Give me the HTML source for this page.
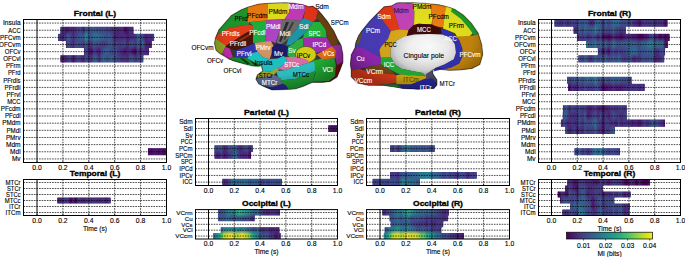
<!DOCTYPE html>
<html><head><meta charset="utf-8"><title>figure</title>
<style>html,body{margin:0;padding:0;background:#fff;}svg{display:block;}
.hg{stroke:#000;stroke-width:0.7;stroke-dasharray:1.6 1.0;}
.vg{stroke:#000;stroke-width:0.7;stroke-dasharray:1.6 1.0;}
.z0{stroke:#000;stroke-width:1;}
.fr{fill:none;stroke:#000;stroke-width:1;}
.tk{stroke:#000;stroke-width:0.6;}
</style></head>
<body><svg width="685" height="257" viewBox="0 0 685 257" font-family="'Liberation Sans', sans-serif">
<defs><filter id="vblur" x="-5%" y="-20%" width="110%" height="140%"><feGaussianBlur stdDeviation="0.3 1.6"/></filter>
<linearGradient id="g1" x1="0" x2="1" y1="0" y2="0"><stop offset="0.0000" stop-color="#472c7a"/><stop offset="0.0355" stop-color="#472f7d"/><stop offset="0.0708" stop-color="#481769"/><stop offset="0.1061" stop-color="#48186a"/><stop offset="0.1415" stop-color="#482878"/><stop offset="0.1768" stop-color="#482173"/><stop offset="0.2121" stop-color="#46337f"/><stop offset="0.2475" stop-color="#443a83"/><stop offset="0.2828" stop-color="#3e4989"/><stop offset="0.3181" stop-color="#482071"/><stop offset="0.3535" stop-color="#355e8d"/><stop offset="0.3888" stop-color="#423f85"/><stop offset="0.4241" stop-color="#3b518b"/><stop offset="0.4595" stop-color="#38588c"/><stop offset="0.4948" stop-color="#3f4889"/><stop offset="0.5302" stop-color="#3e4c8a"/><stop offset="0.5655" stop-color="#404588"/><stop offset="0.6008" stop-color="#3e4a89"/><stop offset="0.6362" stop-color="#443b84"/><stop offset="0.6715" stop-color="#423f85"/><stop offset="0.7068" stop-color="#472d7b"/><stop offset="0.7422" stop-color="#46327e"/><stop offset="0.7775" stop-color="#482374"/><stop offset="0.8128" stop-color="#482979"/><stop offset="0.8482" stop-color="#46307e"/><stop offset="0.8835" stop-color="#46085c"/><stop offset="0.9188" stop-color="#481467"/><stop offset="0.9542" stop-color="#46337f"/><stop offset="0.9895" stop-color="#482677"/><stop offset="1.0000" stop-color="#481c6e"/></linearGradient>
<linearGradient id="g2" x1="0" x2="1" y1="0" y2="0"><stop offset="0.0000" stop-color="#3a548c"/><stop offset="0.0250" stop-color="#482979"/><stop offset="0.0519" stop-color="#472e7c"/><stop offset="0.0787" stop-color="#46327e"/><stop offset="0.1056" stop-color="#34608d"/><stop offset="0.1325" stop-color="#3e4a89"/><stop offset="0.1593" stop-color="#472a7a"/><stop offset="0.1862" stop-color="#404588"/><stop offset="0.2131" stop-color="#3c508b"/><stop offset="0.2399" stop-color="#375a8c"/><stop offset="0.2668" stop-color="#39568c"/><stop offset="0.2937" stop-color="#218f8d"/><stop offset="0.3205" stop-color="#355f8d"/><stop offset="0.3474" stop-color="#3a548c"/><stop offset="0.3743" stop-color="#2d708e"/><stop offset="0.4011" stop-color="#2c738e"/><stop offset="0.4280" stop-color="#2f6b8e"/><stop offset="0.4549" stop-color="#365d8d"/><stop offset="0.4817" stop-color="#375b8d"/><stop offset="0.5086" stop-color="#3a548c"/><stop offset="0.5355" stop-color="#365c8d"/><stop offset="0.5623" stop-color="#3e4c8a"/><stop offset="0.5892" stop-color="#482979"/><stop offset="0.6161" stop-color="#482475"/><stop offset="0.6429" stop-color="#472e7c"/><stop offset="0.6698" stop-color="#482979"/><stop offset="0.6967" stop-color="#46337f"/><stop offset="0.7235" stop-color="#481a6c"/><stop offset="0.7504" stop-color="#472c7a"/><stop offset="0.7773" stop-color="#472e7c"/><stop offset="0.8041" stop-color="#453781"/><stop offset="0.8310" stop-color="#33638d"/><stop offset="0.8579" stop-color="#375a8c"/><stop offset="0.8848" stop-color="#433e85"/><stop offset="0.9116" stop-color="#481d6f"/><stop offset="0.9385" stop-color="#472e7c"/><stop offset="0.9654" stop-color="#482979"/><stop offset="0.9922" stop-color="#443983"/><stop offset="1.0000" stop-color="#433e85"/></linearGradient>
<linearGradient id="g3" x1="0" x2="1" y1="0" y2="0"><stop offset="0.0000" stop-color="#482677"/><stop offset="0.0265" stop-color="#3a548c"/><stop offset="0.0566" stop-color="#433d84"/><stop offset="0.0866" stop-color="#482979"/><stop offset="0.1167" stop-color="#3c508b"/><stop offset="0.1468" stop-color="#404588"/><stop offset="0.1769" stop-color="#3f4889"/><stop offset="0.2070" stop-color="#463480"/><stop offset="0.2370" stop-color="#39568c"/><stop offset="0.2671" stop-color="#472d7b"/><stop offset="0.2972" stop-color="#46337f"/><stop offset="0.3273" stop-color="#39568c"/><stop offset="0.3574" stop-color="#404588"/><stop offset="0.3875" stop-color="#3f4788"/><stop offset="0.4175" stop-color="#443b84"/><stop offset="0.4476" stop-color="#443a83"/><stop offset="0.4777" stop-color="#424186"/><stop offset="0.5078" stop-color="#38588c"/><stop offset="0.5379" stop-color="#3d4d8a"/><stop offset="0.5679" stop-color="#443b84"/><stop offset="0.5980" stop-color="#414487"/><stop offset="0.6281" stop-color="#453882"/><stop offset="0.6582" stop-color="#404588"/><stop offset="0.6883" stop-color="#414487"/><stop offset="0.7184" stop-color="#482475"/><stop offset="0.7484" stop-color="#3e4c8a"/><stop offset="0.7785" stop-color="#3d4e8a"/><stop offset="0.8086" stop-color="#443983"/><stop offset="0.8387" stop-color="#355f8d"/><stop offset="0.8688" stop-color="#414287"/><stop offset="0.8988" stop-color="#32648e"/><stop offset="0.9289" stop-color="#481f70"/><stop offset="0.9590" stop-color="#481d6f"/><stop offset="0.9891" stop-color="#481f70"/><stop offset="1.0000" stop-color="#423f85"/></linearGradient>
<linearGradient id="g4" x1="0" x2="1" y1="0" y2="0"><stop offset="0.0000" stop-color="#482979"/><stop offset="0.0355" stop-color="#404588"/><stop offset="0.0753" stop-color="#482475"/><stop offset="0.1151" stop-color="#46075a"/><stop offset="0.1548" stop-color="#423f85"/><stop offset="0.1946" stop-color="#482979"/><stop offset="0.2344" stop-color="#48186a"/><stop offset="0.2742" stop-color="#424186"/><stop offset="0.3140" stop-color="#3b528b"/><stop offset="0.3538" stop-color="#33638d"/><stop offset="0.3935" stop-color="#3b528b"/><stop offset="0.4333" stop-color="#424086"/><stop offset="0.4731" stop-color="#39558c"/><stop offset="0.5129" stop-color="#423f85"/><stop offset="0.5527" stop-color="#472e7c"/><stop offset="0.5925" stop-color="#482677"/><stop offset="0.6323" stop-color="#471164"/><stop offset="0.6720" stop-color="#482374"/><stop offset="0.7118" stop-color="#472a7a"/><stop offset="0.7516" stop-color="#460b5e"/><stop offset="0.7914" stop-color="#440256"/><stop offset="0.8312" stop-color="#424086"/><stop offset="0.8710" stop-color="#48186a"/><stop offset="0.9108" stop-color="#453882"/><stop offset="0.9505" stop-color="#482979"/><stop offset="0.9903" stop-color="#482576"/><stop offset="1.0000" stop-color="#481f70"/></linearGradient>
<linearGradient id="g5" x1="0" x2="1" y1="0" y2="0"><stop offset="0.0000" stop-color="#482374"/><stop offset="0.0313" stop-color="#481c6e"/><stop offset="0.0624" stop-color="#482374"/><stop offset="0.0935" stop-color="#453882"/><stop offset="0.1246" stop-color="#423f85"/><stop offset="0.1558" stop-color="#470e61"/><stop offset="0.1869" stop-color="#453581"/><stop offset="0.2180" stop-color="#3f4889"/><stop offset="0.2492" stop-color="#463480"/><stop offset="0.2803" stop-color="#482677"/><stop offset="0.3114" stop-color="#39568c"/><stop offset="0.3425" stop-color="#472d7b"/><stop offset="0.3737" stop-color="#46327e"/><stop offset="0.4048" stop-color="#365c8d"/><stop offset="0.4359" stop-color="#38598c"/><stop offset="0.4671" stop-color="#472d7b"/><stop offset="0.4982" stop-color="#38588c"/><stop offset="0.5293" stop-color="#32658e"/><stop offset="0.5605" stop-color="#3e4a89"/><stop offset="0.5916" stop-color="#365c8d"/><stop offset="0.6227" stop-color="#33628d"/><stop offset="0.6538" stop-color="#424186"/><stop offset="0.6850" stop-color="#3e4989"/><stop offset="0.7161" stop-color="#423f85"/><stop offset="0.7472" stop-color="#46307e"/><stop offset="0.7784" stop-color="#443983"/><stop offset="0.8095" stop-color="#482979"/><stop offset="0.8406" stop-color="#3a538b"/><stop offset="0.8718" stop-color="#3c4f8a"/><stop offset="0.9029" stop-color="#463480"/><stop offset="0.9340" stop-color="#404688"/><stop offset="0.9651" stop-color="#424186"/><stop offset="0.9963" stop-color="#3c4f8a"/><stop offset="1.0000" stop-color="#3a548c"/></linearGradient>
<linearGradient id="g6" x1="0" x2="1" y1="0" y2="0"><stop offset="0.0000" stop-color="#471365"/><stop offset="0.0253" stop-color="#471063"/><stop offset="0.1645" stop-color="#460b5e"/><stop offset="0.3038" stop-color="#481769"/><stop offset="0.4430" stop-color="#481b6d"/><stop offset="0.5823" stop-color="#471063"/><stop offset="0.7215" stop-color="#48186a"/><stop offset="0.8608" stop-color="#450457"/><stop offset="1.0000" stop-color="#481b6d"/></linearGradient>
<clipPath id="c7"><rect x="60.30" y="26.65" width="73.30" height="7.15"/><rect x="57.90" y="33.80" width="96.40" height="7.15"/><rect x="65.80" y="40.95" width="86.10" height="7.15"/><rect x="83.90" y="48.10" width="65.10" height="7.15"/><rect x="60.30" y="55.25" width="83.20" height="7.15"/><rect x="147.90" y="148.20" width="18.60" height="7.15"/></clipPath>
<linearGradient id="g8" x1="0" x2="1" y1="0" y2="0"><stop offset="0.0000" stop-color="#48186a"/><stop offset="0.0097" stop-color="#481f70"/><stop offset="0.0580" stop-color="#482071"/><stop offset="0.1063" stop-color="#453882"/><stop offset="0.1547" stop-color="#46307e"/><stop offset="0.2030" stop-color="#433d84"/><stop offset="0.2513" stop-color="#440154"/><stop offset="0.2996" stop-color="#482878"/><stop offset="0.3479" stop-color="#440154"/><stop offset="0.3963" stop-color="#463480"/><stop offset="0.4446" stop-color="#472a7a"/><stop offset="0.4929" stop-color="#482173"/><stop offset="0.5412" stop-color="#46307e"/><stop offset="0.5896" stop-color="#433d84"/><stop offset="0.6379" stop-color="#482878"/><stop offset="0.6862" stop-color="#463480"/><stop offset="0.7345" stop-color="#472f7d"/><stop offset="0.7828" stop-color="#482979"/><stop offset="0.8312" stop-color="#472e7c"/><stop offset="0.8795" stop-color="#472a7a"/><stop offset="0.9278" stop-color="#481a6c"/><stop offset="0.9761" stop-color="#443a83"/><stop offset="1.0000" stop-color="#453581"/></linearGradient>
<clipPath id="c9"><rect x="57.20" y="197.50" width="53.60" height="6.00"/></clipPath>
<linearGradient id="g10" x1="0" x2="1" y1="0" y2="0"><stop offset="0.0000" stop-color="#470d60"/><stop offset="0.2183" stop-color="#48186a"/><stop offset="0.4968" stop-color="#46085c"/><stop offset="0.7753" stop-color="#471063"/><stop offset="1.0000" stop-color="#481467"/></linearGradient>
<linearGradient id="g11" x1="0" x2="1" y1="0" y2="0"><stop offset="0.0000" stop-color="#433e85"/><stop offset="0.0508" stop-color="#404588"/><stop offset="0.1175" stop-color="#3d4d8a"/><stop offset="0.1843" stop-color="#3a538b"/><stop offset="0.2510" stop-color="#482374"/><stop offset="0.3178" stop-color="#472e7c"/><stop offset="0.3845" stop-color="#38598c"/><stop offset="0.4513" stop-color="#404688"/><stop offset="0.5180" stop-color="#31678e"/><stop offset="0.5848" stop-color="#404588"/><stop offset="0.6515" stop-color="#482979"/><stop offset="0.7183" stop-color="#472d7b"/><stop offset="0.7851" stop-color="#3f4889"/><stop offset="0.8518" stop-color="#3f4788"/><stop offset="0.9186" stop-color="#482071"/><stop offset="0.9853" stop-color="#3b518b"/><stop offset="1.0000" stop-color="#414287"/></linearGradient>
<linearGradient id="g12" x1="0" x2="1" y1="0" y2="0"><stop offset="0.0000" stop-color="#46337f"/><stop offset="0.0534" stop-color="#482878"/><stop offset="0.1236" stop-color="#481d6f"/><stop offset="0.1938" stop-color="#443b84"/><stop offset="0.2640" stop-color="#48186a"/><stop offset="0.3341" stop-color="#482475"/><stop offset="0.4043" stop-color="#453882"/><stop offset="0.4745" stop-color="#414287"/><stop offset="0.5447" stop-color="#2a788e"/><stop offset="0.6149" stop-color="#39558c"/><stop offset="0.6851" stop-color="#472f7d"/><stop offset="0.7553" stop-color="#472d7b"/><stop offset="0.8255" stop-color="#482475"/><stop offset="0.8957" stop-color="#46307e"/><stop offset="0.9659" stop-color="#460b5e"/><stop offset="1.0000" stop-color="#440256"/></linearGradient>
<linearGradient id="g13" x1="0" x2="1" y1="0" y2="0"><stop offset="0.0000" stop-color="#443983"/><stop offset="0.0308" stop-color="#482677"/><stop offset="0.0741" stop-color="#472d7b"/><stop offset="0.1174" stop-color="#414287"/><stop offset="0.1607" stop-color="#32658e"/><stop offset="0.2040" stop-color="#2c718e"/><stop offset="0.2473" stop-color="#375b8d"/><stop offset="0.2906" stop-color="#2f6c8e"/><stop offset="0.3339" stop-color="#31688e"/><stop offset="0.3773" stop-color="#2e6f8e"/><stop offset="0.4206" stop-color="#31678e"/><stop offset="0.4639" stop-color="#3c508b"/><stop offset="0.5072" stop-color="#355f8d"/><stop offset="0.5505" stop-color="#365d8d"/><stop offset="0.5938" stop-color="#375b8d"/><stop offset="0.6371" stop-color="#3d4d8a"/><stop offset="0.6804" stop-color="#433d84"/><stop offset="0.7237" stop-color="#38598c"/><stop offset="0.7671" stop-color="#424086"/><stop offset="0.8104" stop-color="#3c4f8a"/><stop offset="0.8537" stop-color="#3a548c"/><stop offset="0.8970" stop-color="#3f4788"/><stop offset="0.9403" stop-color="#3e4989"/><stop offset="0.9836" stop-color="#3e4c8a"/><stop offset="1.0000" stop-color="#3e4a89"/></linearGradient>
<clipPath id="c14"><rect x="328.20" y="125.20" width="9.30" height="6.70"/><rect x="214.30" y="145.30" width="38.80" height="6.70"/><rect x="214.30" y="152.00" width="36.90" height="6.70"/><rect x="222.20" y="178.80" width="59.80" height="6.70"/></clipPath>
<linearGradient id="g15" x1="0" x2="1" y1="0" y2="0"><stop offset="0.0000" stop-color="#3d4d8a"/><stop offset="0.0080" stop-color="#3e4a89"/><stop offset="0.0657" stop-color="#472e7c"/><stop offset="0.1234" stop-color="#355f8d"/><stop offset="0.1811" stop-color="#482878"/><stop offset="0.2388" stop-color="#3d4d8a"/><stop offset="0.2964" stop-color="#31668e"/><stop offset="0.3541" stop-color="#306a8e"/><stop offset="0.4118" stop-color="#297a8e"/><stop offset="0.4695" stop-color="#3a548c"/><stop offset="0.5272" stop-color="#34608d"/><stop offset="0.5849" stop-color="#3b518b"/><stop offset="0.6425" stop-color="#34618d"/><stop offset="0.7002" stop-color="#3b528b"/><stop offset="0.7579" stop-color="#3d4d8a"/><stop offset="0.8156" stop-color="#375b8d"/><stop offset="0.8733" stop-color="#3f4889"/><stop offset="0.9310" stop-color="#433d84"/><stop offset="0.9886" stop-color="#3b528b"/><stop offset="1.0000" stop-color="#3c508b"/></linearGradient>
<linearGradient id="g16" x1="0" x2="1" y1="0" y2="0"><stop offset="0.0000" stop-color="#3d4d8a"/><stop offset="0.0041" stop-color="#453781"/><stop offset="0.0339" stop-color="#443983"/><stop offset="0.0638" stop-color="#443b84"/><stop offset="0.0936" stop-color="#472a7a"/><stop offset="0.1234" stop-color="#3d4d8a"/><stop offset="0.1532" stop-color="#38598c"/><stop offset="0.1830" stop-color="#3b528b"/><stop offset="0.2128" stop-color="#34608d"/><stop offset="0.2426" stop-color="#39568c"/><stop offset="0.2724" stop-color="#32648e"/><stop offset="0.3022" stop-color="#34608d"/><stop offset="0.3320" stop-color="#2e6f8e"/><stop offset="0.3618" stop-color="#2a788e"/><stop offset="0.3916" stop-color="#2c728e"/><stop offset="0.4214" stop-color="#27808e"/><stop offset="0.4512" stop-color="#2a778e"/><stop offset="0.4810" stop-color="#32658e"/><stop offset="0.5108" stop-color="#33638d"/><stop offset="0.5406" stop-color="#31668e"/><stop offset="0.5704" stop-color="#375b8d"/><stop offset="0.6002" stop-color="#3e4a89"/><stop offset="0.6300" stop-color="#423f85"/><stop offset="0.6598" stop-color="#3a538b"/><stop offset="0.6896" stop-color="#453781"/><stop offset="0.7194" stop-color="#3e4989"/><stop offset="0.7493" stop-color="#453581"/><stop offset="0.7791" stop-color="#453581"/><stop offset="0.8089" stop-color="#3f4889"/><stop offset="0.8387" stop-color="#3e4a89"/><stop offset="0.8685" stop-color="#433e85"/><stop offset="0.8983" stop-color="#482071"/><stop offset="0.9281" stop-color="#404588"/><stop offset="0.9579" stop-color="#453882"/><stop offset="0.9877" stop-color="#3d4e8a"/><stop offset="1.0000" stop-color="#443a83"/></linearGradient>
<linearGradient id="g17" x1="0" x2="1" y1="0" y2="0"><stop offset="0.0000" stop-color="#433d84"/><stop offset="0.0509" stop-color="#414287"/><stop offset="0.1055" stop-color="#423f85"/><stop offset="0.1600" stop-color="#3a538b"/><stop offset="0.2145" stop-color="#3e4a89"/><stop offset="0.2691" stop-color="#3d4d8a"/><stop offset="0.3236" stop-color="#433e85"/><stop offset="0.3781" stop-color="#3a548c"/><stop offset="0.4326" stop-color="#3e4a89"/><stop offset="0.4872" stop-color="#3a538b"/><stop offset="0.5417" stop-color="#443b84"/><stop offset="0.5962" stop-color="#31678e"/><stop offset="0.6507" stop-color="#23888e"/><stop offset="0.7053" stop-color="#2d718e"/><stop offset="0.7598" stop-color="#2c728e"/><stop offset="0.8143" stop-color="#2f6b8e"/><stop offset="0.8688" stop-color="#2f6c8e"/><stop offset="0.9234" stop-color="#365d8d"/><stop offset="0.9779" stop-color="#39568c"/><stop offset="1.0000" stop-color="#3e4c8a"/></linearGradient>
<clipPath id="c18"><rect x="390.00" y="145.30" width="44.90" height="6.70"/><rect x="390.00" y="172.10" width="86.90" height="6.70"/><rect x="372.40" y="178.80" width="47.50" height="6.70"/></clipPath>
<linearGradient id="g19" x1="0" x2="1" y1="0" y2="0"><stop offset="0.0000" stop-color="#404688"/><stop offset="0.0123" stop-color="#3e4989"/><stop offset="0.0541" stop-color="#3c508b"/><stop offset="0.0960" stop-color="#375a8c"/><stop offset="0.1378" stop-color="#2c728e"/><stop offset="0.1796" stop-color="#24878e"/><stop offset="0.2215" stop-color="#287c8e"/><stop offset="0.2633" stop-color="#21908d"/><stop offset="0.3052" stop-color="#1fa188"/><stop offset="0.3470" stop-color="#34b679"/><stop offset="0.3889" stop-color="#22a785"/><stop offset="0.4307" stop-color="#1fa088"/><stop offset="0.4725" stop-color="#20928c"/><stop offset="0.5144" stop-color="#277f8e"/><stop offset="0.5562" stop-color="#2d708e"/><stop offset="0.5981" stop-color="#365d8d"/><stop offset="0.6399" stop-color="#306a8e"/><stop offset="0.6817" stop-color="#355e8d"/><stop offset="0.7236" stop-color="#46337f"/><stop offset="0.7654" stop-color="#472f7d"/><stop offset="0.8073" stop-color="#482677"/><stop offset="0.8491" stop-color="#463480"/><stop offset="0.8910" stop-color="#46337f"/><stop offset="0.9328" stop-color="#472e7c"/><stop offset="0.9746" stop-color="#482374"/><stop offset="1.0000" stop-color="#482173"/></linearGradient>
<linearGradient id="g20" x1="0" x2="1" y1="0" y2="0"><stop offset="0.0000" stop-color="#423f85"/><stop offset="0.0207" stop-color="#3e4989"/><stop offset="0.0913" stop-color="#3a538b"/><stop offset="0.1619" stop-color="#3b528b"/><stop offset="0.2324" stop-color="#31678e"/><stop offset="0.3030" stop-color="#34618d"/><stop offset="0.3736" stop-color="#3a538b"/><stop offset="0.4441" stop-color="#3b528b"/><stop offset="0.5147" stop-color="#3a538b"/><stop offset="0.5853" stop-color="#38598c"/><stop offset="0.6559" stop-color="#3b518b"/><stop offset="0.7264" stop-color="#424186"/><stop offset="0.7970" stop-color="#3e4c8a"/><stop offset="0.8676" stop-color="#433d84"/><stop offset="0.9381" stop-color="#482374"/><stop offset="1.0000" stop-color="#463480"/></linearGradient>
<linearGradient id="g21" x1="0" x2="1" y1="0" y2="0"><stop offset="0.0000" stop-color="#39558c"/><stop offset="0.0144" stop-color="#375a8c"/><stop offset="0.0583" stop-color="#26828e"/><stop offset="0.1022" stop-color="#25838e"/><stop offset="0.1461" stop-color="#228b8d"/><stop offset="0.1900" stop-color="#25838e"/><stop offset="0.2339" stop-color="#287c8e"/><stop offset="0.2778" stop-color="#21908d"/><stop offset="0.3217" stop-color="#2a768e"/><stop offset="0.3656" stop-color="#277e8e"/><stop offset="0.4095" stop-color="#277f8e"/><stop offset="0.4534" stop-color="#355f8d"/><stop offset="0.4973" stop-color="#34618d"/><stop offset="0.5412" stop-color="#3b518b"/><stop offset="0.5851" stop-color="#414487"/><stop offset="0.6290" stop-color="#33638d"/><stop offset="0.6729" stop-color="#414487"/><stop offset="0.7168" stop-color="#482173"/><stop offset="0.7607" stop-color="#46337f"/><stop offset="0.8046" stop-color="#46307e"/><stop offset="0.8485" stop-color="#482071"/><stop offset="0.8924" stop-color="#482677"/><stop offset="0.9363" stop-color="#482979"/><stop offset="0.9802" stop-color="#482173"/><stop offset="1.0000" stop-color="#482878"/></linearGradient>
<linearGradient id="g22" x1="0" x2="1" y1="0" y2="0"><stop offset="0.0000" stop-color="#38588c"/><stop offset="0.0071" stop-color="#34618d"/><stop offset="0.0454" stop-color="#228d8d"/><stop offset="0.0837" stop-color="#1fa287"/><stop offset="0.1220" stop-color="#40bd72"/><stop offset="0.1604" stop-color="#c2df23"/><stop offset="0.1987" stop-color="#cae11f"/><stop offset="0.2370" stop-color="#fde725"/><stop offset="0.2753" stop-color="#f4e61e"/><stop offset="0.3136" stop-color="#dae319"/><stop offset="0.3519" stop-color="#b0dd2f"/><stop offset="0.3902" stop-color="#dae319"/><stop offset="0.4286" stop-color="#fbe723"/><stop offset="0.4669" stop-color="#c8e020"/><stop offset="0.5052" stop-color="#b5de2b"/><stop offset="0.5435" stop-color="#6ccd5a"/><stop offset="0.5818" stop-color="#26ad81"/><stop offset="0.6201" stop-color="#1f948c"/><stop offset="0.6584" stop-color="#287d8e"/><stop offset="0.6967" stop-color="#2e6d8e"/><stop offset="0.7351" stop-color="#3c508b"/><stop offset="0.7734" stop-color="#375a8c"/><stop offset="0.8117" stop-color="#3b528b"/><stop offset="0.8500" stop-color="#463480"/><stop offset="0.8883" stop-color="#453882"/><stop offset="0.9266" stop-color="#481467"/><stop offset="0.9649" stop-color="#472a7a"/><stop offset="1.0000" stop-color="#482677"/></linearGradient>
<clipPath id="c23"><rect x="218.10" y="209.60" width="61.90" height="5.88"/><rect x="218.10" y="215.48" width="36.70" height="5.88"/><rect x="220.60" y="227.24" width="59.00" height="5.88"/><rect x="213.20" y="233.12" width="67.60" height="5.88"/></clipPath>
<linearGradient id="g24" x1="0" x2="1" y1="0" y2="0"><stop offset="0.0000" stop-color="#481668"/><stop offset="0.0058" stop-color="#482878"/><stop offset="0.0447" stop-color="#482979"/><stop offset="0.0835" stop-color="#3d4e8a"/><stop offset="0.1223" stop-color="#3e4989"/><stop offset="0.1612" stop-color="#375b8d"/><stop offset="0.2000" stop-color="#30698e"/><stop offset="0.2388" stop-color="#277e8e"/><stop offset="0.2777" stop-color="#30698e"/><stop offset="0.3165" stop-color="#228b8d"/><stop offset="0.3553" stop-color="#1f968b"/><stop offset="0.3942" stop-color="#22a884"/><stop offset="0.4330" stop-color="#1f988b"/><stop offset="0.4718" stop-color="#26828e"/><stop offset="0.5106" stop-color="#2b758e"/><stop offset="0.5495" stop-color="#2e6e8e"/><stop offset="0.5883" stop-color="#31678e"/><stop offset="0.6271" stop-color="#2c728e"/><stop offset="0.6660" stop-color="#375b8d"/><stop offset="0.7048" stop-color="#31668e"/><stop offset="0.7436" stop-color="#31668e"/><stop offset="0.7825" stop-color="#38598c"/><stop offset="0.8213" stop-color="#3c4f8a"/><stop offset="0.8601" stop-color="#424186"/><stop offset="0.8990" stop-color="#472f7d"/><stop offset="0.9378" stop-color="#482677"/><stop offset="0.9766" stop-color="#453882"/><stop offset="1.0000" stop-color="#482374"/></linearGradient>
<linearGradient id="g25" x1="0" x2="1" y1="0" y2="0"><stop offset="0.0000" stop-color="#453581"/><stop offset="0.0163" stop-color="#3e4989"/><stop offset="0.0603" stop-color="#3b528b"/><stop offset="0.1042" stop-color="#34608d"/><stop offset="0.1482" stop-color="#2f6c8e"/><stop offset="0.1922" stop-color="#3d4e8a"/><stop offset="0.2362" stop-color="#33628d"/><stop offset="0.2801" stop-color="#306a8e"/><stop offset="0.3241" stop-color="#2e6f8e"/><stop offset="0.3681" stop-color="#3d4e8a"/><stop offset="0.4121" stop-color="#3d4e8a"/><stop offset="0.4560" stop-color="#3a538b"/><stop offset="0.5000" stop-color="#3a538b"/><stop offset="0.5440" stop-color="#414287"/><stop offset="0.5879" stop-color="#3b518b"/><stop offset="0.6319" stop-color="#46307e"/><stop offset="0.6759" stop-color="#424086"/><stop offset="0.7199" stop-color="#414287"/><stop offset="0.7638" stop-color="#453882"/><stop offset="0.8078" stop-color="#443a83"/><stop offset="0.8518" stop-color="#46337f"/><stop offset="0.8958" stop-color="#46307e"/><stop offset="0.9397" stop-color="#472a7a"/><stop offset="0.9837" stop-color="#443b84"/><stop offset="1.0000" stop-color="#443b84"/></linearGradient>
<linearGradient id="g26" x1="0" x2="1" y1="0" y2="0"><stop offset="0.0000" stop-color="#39568c"/><stop offset="0.0463" stop-color="#3c508b"/><stop offset="0.0953" stop-color="#375a8c"/><stop offset="0.1442" stop-color="#32648e"/><stop offset="0.1932" stop-color="#365c8d"/><stop offset="0.2422" stop-color="#39568c"/><stop offset="0.2911" stop-color="#34608d"/><stop offset="0.3401" stop-color="#355e8d"/><stop offset="0.3890" stop-color="#3d4d8a"/><stop offset="0.4380" stop-color="#433e85"/><stop offset="0.4870" stop-color="#443b84"/><stop offset="0.5359" stop-color="#463480"/><stop offset="0.5849" stop-color="#46337f"/><stop offset="0.6338" stop-color="#453581"/><stop offset="0.6828" stop-color="#482071"/><stop offset="0.7318" stop-color="#443b84"/><stop offset="0.7807" stop-color="#46327e"/><stop offset="0.8297" stop-color="#482071"/><stop offset="0.8786" stop-color="#46337f"/><stop offset="0.9276" stop-color="#453781"/><stop offset="0.9766" stop-color="#453581"/><stop offset="1.0000" stop-color="#46337f"/></linearGradient>
<linearGradient id="g27" x1="0" x2="1" y1="0" y2="0"><stop offset="0.0000" stop-color="#3b518b"/><stop offset="0.0119" stop-color="#443a83"/><stop offset="0.0574" stop-color="#33638d"/><stop offset="0.1028" stop-color="#2b748e"/><stop offset="0.1482" stop-color="#287c8e"/><stop offset="0.1937" stop-color="#218e8d"/><stop offset="0.2391" stop-color="#1e9c89"/><stop offset="0.2846" stop-color="#297b8e"/><stop offset="0.3300" stop-color="#287c8e"/><stop offset="0.3754" stop-color="#287c8e"/><stop offset="0.4209" stop-color="#26828e"/><stop offset="0.4663" stop-color="#297a8e"/><stop offset="0.5118" stop-color="#2c728e"/><stop offset="0.5572" stop-color="#375a8c"/><stop offset="0.6026" stop-color="#3a548c"/><stop offset="0.6481" stop-color="#38588c"/><stop offset="0.6935" stop-color="#33638d"/><stop offset="0.7389" stop-color="#404588"/><stop offset="0.7844" stop-color="#3a548c"/><stop offset="0.8298" stop-color="#404688"/><stop offset="0.8753" stop-color="#443a83"/><stop offset="0.9207" stop-color="#3f4889"/><stop offset="0.9661" stop-color="#453581"/><stop offset="1.0000" stop-color="#482979"/></linearGradient>
<linearGradient id="g28" x1="0" x2="1" y1="0" y2="0"><stop offset="0.0000" stop-color="#26828e"/><stop offset="0.0197" stop-color="#25848e"/><stop offset="0.0519" stop-color="#20a486"/><stop offset="0.0841" stop-color="#54c568"/><stop offset="0.1163" stop-color="#bddf26"/><stop offset="0.1485" stop-color="#d0e11c"/><stop offset="0.1807" stop-color="#eae51a"/><stop offset="0.2129" stop-color="#b2dd2d"/><stop offset="0.2451" stop-color="#c0df25"/><stop offset="0.2774" stop-color="#f8e621"/><stop offset="0.3096" stop-color="#f8e621"/><stop offset="0.3418" stop-color="#d2e21b"/><stop offset="0.3740" stop-color="#e5e419"/><stop offset="0.4062" stop-color="#dae319"/><stop offset="0.4384" stop-color="#addc30"/><stop offset="0.4706" stop-color="#65cb5e"/><stop offset="0.5029" stop-color="#69cd5b"/><stop offset="0.5351" stop-color="#25ac82"/><stop offset="0.5673" stop-color="#1fa287"/><stop offset="0.5995" stop-color="#21908d"/><stop offset="0.6317" stop-color="#23898e"/><stop offset="0.6639" stop-color="#31688e"/><stop offset="0.6961" stop-color="#2d718e"/><stop offset="0.7284" stop-color="#3b518b"/><stop offset="0.7606" stop-color="#3e4a89"/><stop offset="0.7928" stop-color="#3a538b"/><stop offset="0.8250" stop-color="#453882"/><stop offset="0.8572" stop-color="#453581"/><stop offset="0.8894" stop-color="#472f7d"/><stop offset="0.9216" stop-color="#481f70"/><stop offset="0.9539" stop-color="#472c7a"/><stop offset="0.9861" stop-color="#481467"/><stop offset="1.0000" stop-color="#472c7a"/></linearGradient>
<clipPath id="c29"><rect x="382.20" y="209.60" width="66.70" height="5.88"/><rect x="389.40" y="215.48" width="58.90" height="5.88"/><rect x="390.50" y="221.36" width="52.90" height="5.88"/><rect x="384.50" y="227.24" width="57.00" height="5.88"/><rect x="383.60" y="233.12" width="80.40" height="5.88"/></clipPath>
<linearGradient id="g30" x1="0" x2="1" y1="0" y2="0"><stop offset="0.0000" stop-color="#414287"/><stop offset="0.0210" stop-color="#423f85"/><stop offset="0.0438" stop-color="#453581"/><stop offset="0.0667" stop-color="#472d7b"/><stop offset="0.0895" stop-color="#3f4788"/><stop offset="0.1123" stop-color="#472e7c"/><stop offset="0.1352" stop-color="#46337f"/><stop offset="0.1580" stop-color="#414487"/><stop offset="0.1809" stop-color="#423f85"/><stop offset="0.2037" stop-color="#404688"/><stop offset="0.2265" stop-color="#38588c"/><stop offset="0.2494" stop-color="#3e4c8a"/><stop offset="0.2722" stop-color="#34608d"/><stop offset="0.2951" stop-color="#3c508b"/><stop offset="0.3179" stop-color="#482878"/><stop offset="0.3407" stop-color="#482173"/><stop offset="0.3636" stop-color="#38598c"/><stop offset="0.3864" stop-color="#31678e"/><stop offset="0.4093" stop-color="#3a548c"/><stop offset="0.4321" stop-color="#463480"/><stop offset="0.4549" stop-color="#33638d"/><stop offset="0.4778" stop-color="#404588"/><stop offset="0.5006" stop-color="#365c8d"/><stop offset="0.5235" stop-color="#2f6b8e"/><stop offset="0.5463" stop-color="#30698e"/><stop offset="0.5691" stop-color="#31678e"/><stop offset="0.5920" stop-color="#3d4d8a"/><stop offset="0.6148" stop-color="#3d4d8a"/><stop offset="0.6377" stop-color="#3d4e8a"/><stop offset="0.6605" stop-color="#424186"/><stop offset="0.6833" stop-color="#3f4788"/><stop offset="0.7062" stop-color="#472c7a"/><stop offset="0.7290" stop-color="#482878"/><stop offset="0.7519" stop-color="#471063"/><stop offset="0.7747" stop-color="#453581"/><stop offset="0.7975" stop-color="#443b84"/><stop offset="0.8204" stop-color="#453882"/><stop offset="0.8432" stop-color="#453882"/><stop offset="0.8660" stop-color="#443983"/><stop offset="0.8889" stop-color="#472d7b"/><stop offset="0.9117" stop-color="#46307e"/><stop offset="0.9346" stop-color="#46307e"/><stop offset="0.9574" stop-color="#472d7b"/><stop offset="0.9802" stop-color="#460b5e"/><stop offset="1.0000" stop-color="#472f7d"/></linearGradient>
<linearGradient id="g31" x1="0" x2="1" y1="0" y2="0"><stop offset="0.0000" stop-color="#482878"/><stop offset="0.0269" stop-color="#482677"/><stop offset="0.0762" stop-color="#443a83"/><stop offset="0.1255" stop-color="#32658e"/><stop offset="0.1749" stop-color="#423f85"/><stop offset="0.2242" stop-color="#2b748e"/><stop offset="0.2735" stop-color="#39568c"/><stop offset="0.3229" stop-color="#365c8d"/><stop offset="0.3722" stop-color="#38598c"/><stop offset="0.4215" stop-color="#23888e"/><stop offset="0.4709" stop-color="#365c8d"/><stop offset="0.5202" stop-color="#365c8d"/><stop offset="0.5695" stop-color="#443a83"/><stop offset="0.6189" stop-color="#3b518b"/><stop offset="0.6682" stop-color="#404588"/><stop offset="0.7175" stop-color="#3c4f8a"/><stop offset="0.7669" stop-color="#33638d"/><stop offset="0.8162" stop-color="#404688"/><stop offset="0.8655" stop-color="#433e85"/><stop offset="0.9149" stop-color="#46307e"/><stop offset="0.9642" stop-color="#423f85"/><stop offset="1.0000" stop-color="#404588"/></linearGradient>
<linearGradient id="g32" x1="0" x2="1" y1="0" y2="0"><stop offset="0.0000" stop-color="#440154"/><stop offset="0.0302" stop-color="#404688"/><stop offset="0.0582" stop-color="#463480"/><stop offset="0.0862" stop-color="#414487"/><stop offset="0.1142" stop-color="#482576"/><stop offset="0.1422" stop-color="#463480"/><stop offset="0.1702" stop-color="#404688"/><stop offset="0.1982" stop-color="#433d84"/><stop offset="0.2262" stop-color="#481c6e"/><stop offset="0.2542" stop-color="#433d84"/><stop offset="0.2822" stop-color="#440154"/><stop offset="0.3102" stop-color="#471164"/><stop offset="0.3382" stop-color="#440154"/><stop offset="0.3662" stop-color="#470d60"/><stop offset="0.3942" stop-color="#472c7a"/><stop offset="0.4222" stop-color="#471164"/><stop offset="0.4502" stop-color="#481668"/><stop offset="0.4782" stop-color="#440154"/><stop offset="0.5062" stop-color="#48186a"/><stop offset="0.5342" stop-color="#482979"/><stop offset="0.5622" stop-color="#46337f"/><stop offset="0.5902" stop-color="#481b6d"/><stop offset="0.6182" stop-color="#48186a"/><stop offset="0.6462" stop-color="#471164"/><stop offset="0.6742" stop-color="#440154"/><stop offset="0.7022" stop-color="#440154"/><stop offset="0.7302" stop-color="#481668"/><stop offset="0.7582" stop-color="#481a6c"/><stop offset="0.7862" stop-color="#453581"/><stop offset="0.8142" stop-color="#3f4788"/><stop offset="0.8422" stop-color="#481c6e"/><stop offset="0.8702" stop-color="#482475"/><stop offset="0.8982" stop-color="#440154"/><stop offset="0.9262" stop-color="#481c6e"/><stop offset="0.9542" stop-color="#440154"/><stop offset="0.9822" stop-color="#471063"/><stop offset="1.0000" stop-color="#440154"/></linearGradient>
<linearGradient id="g33" x1="0" x2="1" y1="0" y2="0"><stop offset="0.0000" stop-color="#27808e"/><stop offset="0.0214" stop-color="#33628d"/><stop offset="0.0530" stop-color="#365d8d"/><stop offset="0.0845" stop-color="#34608d"/><stop offset="0.1161" stop-color="#2a778e"/><stop offset="0.1476" stop-color="#3c508b"/><stop offset="0.1792" stop-color="#306a8e"/><stop offset="0.2107" stop-color="#424186"/><stop offset="0.2423" stop-color="#306a8e"/><stop offset="0.2738" stop-color="#423f85"/><stop offset="0.3054" stop-color="#3b518b"/><stop offset="0.3369" stop-color="#297b8e"/><stop offset="0.3685" stop-color="#375b8d"/><stop offset="0.4000" stop-color="#3d4e8a"/><stop offset="0.4315" stop-color="#375b8d"/><stop offset="0.4631" stop-color="#365d8d"/><stop offset="0.4946" stop-color="#365c8d"/><stop offset="0.5262" stop-color="#2f6b8e"/><stop offset="0.5577" stop-color="#375a8c"/><stop offset="0.5893" stop-color="#34608d"/><stop offset="0.6208" stop-color="#3a548c"/><stop offset="0.6524" stop-color="#404688"/><stop offset="0.6839" stop-color="#32658e"/><stop offset="0.7155" stop-color="#355e8d"/><stop offset="0.7470" stop-color="#2b748e"/><stop offset="0.7786" stop-color="#26828e"/><stop offset="0.8101" stop-color="#2b748e"/><stop offset="0.8417" stop-color="#365c8d"/><stop offset="0.8732" stop-color="#2f6c8e"/><stop offset="0.9048" stop-color="#33628d"/><stop offset="0.9363" stop-color="#30698e"/><stop offset="0.9678" stop-color="#471164"/><stop offset="1.0000" stop-color="#482576"/></linearGradient>
<linearGradient id="g34" x1="0" x2="1" y1="0" y2="0"><stop offset="0.0000" stop-color="#404588"/><stop offset="0.0062" stop-color="#453882"/><stop offset="0.0446" stop-color="#414287"/><stop offset="0.0830" stop-color="#440154"/><stop offset="0.1213" stop-color="#453882"/><stop offset="0.1597" stop-color="#460a5d"/><stop offset="0.1981" stop-color="#443a83"/><stop offset="0.2364" stop-color="#414287"/><stop offset="0.2748" stop-color="#472f7d"/><stop offset="0.3132" stop-color="#404588"/><stop offset="0.3516" stop-color="#463480"/><stop offset="0.3899" stop-color="#414287"/><stop offset="0.4283" stop-color="#3f4788"/><stop offset="0.4667" stop-color="#34618d"/><stop offset="0.5050" stop-color="#32648e"/><stop offset="0.5434" stop-color="#30698e"/><stop offset="0.5818" stop-color="#33628d"/><stop offset="0.6201" stop-color="#414487"/><stop offset="0.6585" stop-color="#3a538b"/><stop offset="0.6969" stop-color="#3b518b"/><stop offset="0.7353" stop-color="#365d8d"/><stop offset="0.7736" stop-color="#3b528b"/><stop offset="0.8120" stop-color="#355e8d"/><stop offset="0.8504" stop-color="#453581"/><stop offset="0.8887" stop-color="#472a7a"/><stop offset="0.9271" stop-color="#404588"/><stop offset="0.9655" stop-color="#3d4d8a"/><stop offset="1.0000" stop-color="#482173"/></linearGradient>
<linearGradient id="g35" x1="0" x2="1" y1="0" y2="0"><stop offset="0.0000" stop-color="#453882"/><stop offset="0.0208" stop-color="#39558c"/><stop offset="0.0508" stop-color="#433d84"/><stop offset="0.0809" stop-color="#34618d"/><stop offset="0.1109" stop-color="#3e4989"/><stop offset="0.1410" stop-color="#472d7b"/><stop offset="0.1710" stop-color="#433e85"/><stop offset="0.2010" stop-color="#32658e"/><stop offset="0.2311" stop-color="#404588"/><stop offset="0.2611" stop-color="#375a8c"/><stop offset="0.2912" stop-color="#443a83"/><stop offset="0.3212" stop-color="#31678e"/><stop offset="0.3513" stop-color="#3e4a89"/><stop offset="0.3813" stop-color="#3d4d8a"/><stop offset="0.4114" stop-color="#355f8d"/><stop offset="0.4414" stop-color="#3e4c8a"/><stop offset="0.4715" stop-color="#32658e"/><stop offset="0.5015" stop-color="#3f4889"/><stop offset="0.5316" stop-color="#443983"/><stop offset="0.5616" stop-color="#433e85"/><stop offset="0.5916" stop-color="#365c8d"/><stop offset="0.6217" stop-color="#433d84"/><stop offset="0.6517" stop-color="#482173"/><stop offset="0.6818" stop-color="#443b84"/><stop offset="0.7118" stop-color="#472e7c"/><stop offset="0.7419" stop-color="#3d4d8a"/><stop offset="0.7719" stop-color="#3e4989"/><stop offset="0.8020" stop-color="#3e4989"/><stop offset="0.8320" stop-color="#3b518b"/><stop offset="0.8621" stop-color="#3e4989"/><stop offset="0.8921" stop-color="#482475"/><stop offset="0.9222" stop-color="#482576"/><stop offset="0.9522" stop-color="#472c7a"/><stop offset="0.9823" stop-color="#404588"/><stop offset="1.0000" stop-color="#46337f"/></linearGradient>
<linearGradient id="g36" x1="0" x2="1" y1="0" y2="0"><stop offset="0.0000" stop-color="#355f8d"/><stop offset="0.0421" stop-color="#433e85"/><stop offset="0.0821" stop-color="#3e4c8a"/><stop offset="0.1221" stop-color="#39568c"/><stop offset="0.1620" stop-color="#3f4788"/><stop offset="0.2020" stop-color="#31668e"/><stop offset="0.2420" stop-color="#3d4e8a"/><stop offset="0.2819" stop-color="#355f8d"/><stop offset="0.3219" stop-color="#2e6e8e"/><stop offset="0.3619" stop-color="#375b8d"/><stop offset="0.4019" stop-color="#365d8d"/><stop offset="0.4418" stop-color="#25858e"/><stop offset="0.4818" stop-color="#3c508b"/><stop offset="0.5218" stop-color="#38588c"/><stop offset="0.5617" stop-color="#472f7d"/><stop offset="0.6017" stop-color="#34618d"/><stop offset="0.6417" stop-color="#414487"/><stop offset="0.6816" stop-color="#365c8d"/><stop offset="0.7216" stop-color="#34608d"/><stop offset="0.7616" stop-color="#3a548c"/><stop offset="0.8015" stop-color="#355f8d"/><stop offset="0.8415" stop-color="#3d4d8a"/><stop offset="0.8815" stop-color="#3e4c8a"/><stop offset="0.9215" stop-color="#3d4d8a"/><stop offset="0.9614" stop-color="#404588"/><stop offset="1.0000" stop-color="#482576"/></linearGradient>
<linearGradient id="g37" x1="0" x2="1" y1="0" y2="0"><stop offset="0.0000" stop-color="#482173"/><stop offset="0.0225" stop-color="#46085c"/><stop offset="0.0562" stop-color="#46337f"/><stop offset="0.0899" stop-color="#481c6e"/><stop offset="0.1235" stop-color="#482878"/><stop offset="0.1572" stop-color="#443a83"/><stop offset="0.1909" stop-color="#482979"/><stop offset="0.2246" stop-color="#3c4f8a"/><stop offset="0.2583" stop-color="#472d7b"/><stop offset="0.2919" stop-color="#443983"/><stop offset="0.3256" stop-color="#463480"/><stop offset="0.3593" stop-color="#3e4989"/><stop offset="0.3930" stop-color="#404688"/><stop offset="0.4267" stop-color="#482878"/><stop offset="0.4603" stop-color="#440154"/><stop offset="0.4940" stop-color="#481467"/><stop offset="0.5277" stop-color="#481c6e"/><stop offset="0.5614" stop-color="#481b6d"/><stop offset="0.5951" stop-color="#472e7c"/><stop offset="0.6287" stop-color="#481b6d"/><stop offset="0.6624" stop-color="#481f70"/><stop offset="0.6961" stop-color="#481a6c"/><stop offset="0.7298" stop-color="#482979"/><stop offset="0.7635" stop-color="#482979"/><stop offset="0.7971" stop-color="#424086"/><stop offset="0.8308" stop-color="#46337f"/><stop offset="0.8645" stop-color="#46337f"/><stop offset="0.8982" stop-color="#453882"/><stop offset="0.9319" stop-color="#482677"/><stop offset="0.9655" stop-color="#433d84"/><stop offset="1.0000" stop-color="#481c6e"/></linearGradient>
<linearGradient id="g38" x1="0" x2="1" y1="0" y2="0"><stop offset="0.0000" stop-color="#481c6e"/><stop offset="0.0257" stop-color="#3e4c8a"/><stop offset="0.0661" stop-color="#3a538b"/><stop offset="0.1066" stop-color="#482576"/><stop offset="0.1470" stop-color="#3d4e8a"/><stop offset="0.1874" stop-color="#453781"/><stop offset="0.2278" stop-color="#3f4889"/><stop offset="0.2682" stop-color="#414287"/><stop offset="0.3086" stop-color="#46337f"/><stop offset="0.3490" stop-color="#424186"/><stop offset="0.3894" stop-color="#482374"/><stop offset="0.4298" stop-color="#482071"/><stop offset="0.4702" stop-color="#472f7d"/><stop offset="0.5106" stop-color="#433e85"/><stop offset="0.5510" stop-color="#482374"/><stop offset="0.5914" stop-color="#482071"/><stop offset="0.6318" stop-color="#460b5e"/><stop offset="0.6722" stop-color="#482475"/><stop offset="0.7126" stop-color="#482576"/><stop offset="0.7530" stop-color="#443983"/><stop offset="0.7934" stop-color="#443983"/><stop offset="0.8339" stop-color="#472f7d"/><stop offset="0.8743" stop-color="#443983"/><stop offset="0.9147" stop-color="#433e85"/><stop offset="0.9551" stop-color="#472d7b"/><stop offset="1.0000" stop-color="#424186"/></linearGradient>
<linearGradient id="g39" x1="0" x2="1" y1="0" y2="0"><stop offset="0.0000" stop-color="#472a7a"/><stop offset="0.0288" stop-color="#34618d"/><stop offset="0.0691" stop-color="#3b528b"/><stop offset="0.1093" stop-color="#46307e"/><stop offset="0.1496" stop-color="#472f7d"/><stop offset="0.1899" stop-color="#472f7d"/><stop offset="0.2302" stop-color="#453781"/><stop offset="0.2705" stop-color="#3e4c8a"/><stop offset="0.3107" stop-color="#453781"/><stop offset="0.3510" stop-color="#34618d"/><stop offset="0.3913" stop-color="#481b6d"/><stop offset="0.4316" stop-color="#472a7a"/><stop offset="0.4719" stop-color="#433d84"/><stop offset="0.5121" stop-color="#3d4e8a"/><stop offset="0.5524" stop-color="#482878"/><stop offset="0.5927" stop-color="#3a538b"/><stop offset="0.6330" stop-color="#481769"/><stop offset="0.6733" stop-color="#424186"/><stop offset="0.7135" stop-color="#482374"/><stop offset="0.7538" stop-color="#443b84"/><stop offset="0.7941" stop-color="#3b528b"/><stop offset="0.8344" stop-color="#424086"/><stop offset="0.8747" stop-color="#443983"/><stop offset="0.9149" stop-color="#472c7a"/><stop offset="0.9552" stop-color="#443a83"/><stop offset="1.0000" stop-color="#404688"/></linearGradient>
<linearGradient id="g40" x1="0" x2="1" y1="0" y2="0"><stop offset="0.0000" stop-color="#472d7b"/><stop offset="0.0102" stop-color="#482878"/><stop offset="0.0350" stop-color="#3d4d8a"/><stop offset="0.0598" stop-color="#482576"/><stop offset="0.0847" stop-color="#482979"/><stop offset="0.1095" stop-color="#453882"/><stop offset="0.1343" stop-color="#482878"/><stop offset="0.1592" stop-color="#453781"/><stop offset="0.1840" stop-color="#3c508b"/><stop offset="0.2088" stop-color="#472e7c"/><stop offset="0.2337" stop-color="#3a548c"/><stop offset="0.2585" stop-color="#3e4989"/><stop offset="0.2833" stop-color="#404688"/><stop offset="0.3081" stop-color="#38588c"/><stop offset="0.3330" stop-color="#2f6c8e"/><stop offset="0.3578" stop-color="#404588"/><stop offset="0.3826" stop-color="#453882"/><stop offset="0.4075" stop-color="#481668"/><stop offset="0.4323" stop-color="#424086"/><stop offset="0.4571" stop-color="#433d84"/><stop offset="0.4820" stop-color="#482878"/><stop offset="0.5068" stop-color="#46327e"/><stop offset="0.5316" stop-color="#482071"/><stop offset="0.5565" stop-color="#404688"/><stop offset="0.5813" stop-color="#482677"/><stop offset="0.6061" stop-color="#463480"/><stop offset="0.6310" stop-color="#472f7d"/><stop offset="0.6558" stop-color="#3e4a89"/><stop offset="0.6806" stop-color="#481c6e"/><stop offset="0.7055" stop-color="#482677"/><stop offset="0.7303" stop-color="#482576"/><stop offset="0.7551" stop-color="#471365"/><stop offset="0.7800" stop-color="#472a7a"/><stop offset="0.8048" stop-color="#414287"/><stop offset="0.8296" stop-color="#482878"/><stop offset="0.8545" stop-color="#433e85"/><stop offset="0.8793" stop-color="#39568c"/><stop offset="0.9041" stop-color="#3e4989"/><stop offset="0.9290" stop-color="#3f4788"/><stop offset="0.9538" stop-color="#453581"/><stop offset="0.9786" stop-color="#472a7a"/><stop offset="1.0000" stop-color="#471063"/></linearGradient>
<linearGradient id="g41" x1="0" x2="1" y1="0" y2="0"><stop offset="0.0000" stop-color="#39558c"/><stop offset="0.0389" stop-color="#424086"/><stop offset="0.0908" stop-color="#481a6c"/><stop offset="0.1427" stop-color="#46307e"/><stop offset="0.1946" stop-color="#414287"/><stop offset="0.2465" stop-color="#481668"/><stop offset="0.2984" stop-color="#443b84"/><stop offset="0.3503" stop-color="#482576"/><stop offset="0.4022" stop-color="#39558c"/><stop offset="0.4541" stop-color="#453581"/><stop offset="0.5060" stop-color="#404688"/><stop offset="0.5579" stop-color="#453882"/><stop offset="0.6098" stop-color="#34618d"/><stop offset="0.6617" stop-color="#46327e"/><stop offset="0.7136" stop-color="#46327e"/><stop offset="0.7655" stop-color="#481467"/><stop offset="0.8174" stop-color="#433e85"/><stop offset="0.8693" stop-color="#463480"/><stop offset="0.9212" stop-color="#3c4f8a"/><stop offset="0.9731" stop-color="#3b528b"/><stop offset="1.0000" stop-color="#3d4e8a"/></linearGradient>
<linearGradient id="g42" x1="0" x2="1" y1="0" y2="0"><stop offset="0.0000" stop-color="#3e4989"/><stop offset="0.0112" stop-color="#3f4889"/><stop offset="0.0678" stop-color="#423f85"/><stop offset="0.1245" stop-color="#30698e"/><stop offset="0.1812" stop-color="#472e7c"/><stop offset="0.2379" stop-color="#3b518b"/><stop offset="0.2945" stop-color="#482979"/><stop offset="0.3512" stop-color="#433e85"/><stop offset="0.4079" stop-color="#38588c"/><stop offset="0.4646" stop-color="#297a8e"/><stop offset="0.5212" stop-color="#3b518b"/><stop offset="0.5779" stop-color="#287c8e"/><stop offset="0.6346" stop-color="#3a548c"/><stop offset="0.6912" stop-color="#3a548c"/><stop offset="0.7479" stop-color="#443b84"/><stop offset="0.8046" stop-color="#3d4d8a"/><stop offset="0.8613" stop-color="#3d4d8a"/><stop offset="0.9179" stop-color="#424086"/><stop offset="0.9746" stop-color="#433d84"/><stop offset="1.0000" stop-color="#482374"/></linearGradient>
<clipPath id="c43"><rect x="554.30" y="19.50" width="113.40" height="7.15"/><rect x="573.40" y="26.65" width="52.50" height="7.15"/><rect x="577.20" y="33.80" width="92.50" height="7.15"/><rect x="586.00" y="40.95" width="82.10" height="7.15"/><rect x="597.70" y="48.10" width="67.50" height="7.15"/><rect x="578.20" y="55.25" width="86.20" height="7.15"/><rect x="566.90" y="76.70" width="64.80" height="7.15"/><rect x="567.90" y="83.85" width="76.90" height="7.15"/><rect x="562.80" y="105.30" width="64.10" height="7.15"/><rect x="562.60" y="112.45" width="64.30" height="7.15"/><rect x="560.80" y="119.60" width="104.30" height="7.15"/><rect x="565.10" y="126.75" width="49.90" height="7.15"/><rect x="574.30" y="148.20" width="45.70" height="7.15"/></clipPath>
<linearGradient id="g44" x1="0" x2="1" y1="0" y2="0"><stop offset="0.0000" stop-color="#481f70"/><stop offset="0.0293" stop-color="#472f7d"/><stop offset="0.0605" stop-color="#482576"/><stop offset="0.0917" stop-color="#470e61"/><stop offset="0.1229" stop-color="#482576"/><stop offset="0.1541" stop-color="#46337f"/><stop offset="0.1853" stop-color="#443983"/><stop offset="0.2165" stop-color="#472c7a"/><stop offset="0.2477" stop-color="#482374"/><stop offset="0.2789" stop-color="#472a7a"/><stop offset="0.3101" stop-color="#48186a"/><stop offset="0.3413" stop-color="#481668"/><stop offset="0.3725" stop-color="#48186a"/><stop offset="0.4037" stop-color="#443a83"/><stop offset="0.4349" stop-color="#453581"/><stop offset="0.4661" stop-color="#472d7b"/><stop offset="0.4973" stop-color="#48186a"/><stop offset="0.5286" stop-color="#46307e"/><stop offset="0.5598" stop-color="#423f85"/><stop offset="0.5910" stop-color="#453581"/><stop offset="0.6222" stop-color="#46337f"/><stop offset="0.6534" stop-color="#472c7a"/><stop offset="0.6846" stop-color="#481467"/><stop offset="0.7158" stop-color="#440154"/><stop offset="0.7470" stop-color="#482374"/><stop offset="0.7782" stop-color="#482878"/><stop offset="0.8094" stop-color="#481b6d"/><stop offset="0.8406" stop-color="#440154"/><stop offset="0.8718" stop-color="#482475"/><stop offset="0.9030" stop-color="#440154"/><stop offset="0.9342" stop-color="#450457"/><stop offset="0.9654" stop-color="#440154"/><stop offset="1.0000" stop-color="#482576"/></linearGradient>
<linearGradient id="g45" x1="0" x2="1" y1="0" y2="0"><stop offset="0.0000" stop-color="#453781"/><stop offset="0.0540" stop-color="#471365"/><stop offset="0.1225" stop-color="#414487"/><stop offset="0.1910" stop-color="#46307e"/><stop offset="0.2595" stop-color="#48186a"/><stop offset="0.3280" stop-color="#481769"/><stop offset="0.3966" stop-color="#3b518b"/><stop offset="0.4651" stop-color="#404688"/><stop offset="0.5336" stop-color="#3c4f8a"/><stop offset="0.6021" stop-color="#472d7b"/><stop offset="0.6706" stop-color="#482979"/><stop offset="0.7392" stop-color="#46327e"/><stop offset="0.8077" stop-color="#433d84"/><stop offset="0.8762" stop-color="#433e85"/><stop offset="0.9447" stop-color="#414287"/><stop offset="1.0000" stop-color="#482374"/></linearGradient>
<linearGradient id="g46" x1="0" x2="1" y1="0" y2="0"><stop offset="0.0000" stop-color="#450457"/><stop offset="0.0241" stop-color="#440154"/><stop offset="0.0595" stop-color="#46307e"/><stop offset="0.0948" stop-color="#482475"/><stop offset="0.1302" stop-color="#450457"/><stop offset="0.1655" stop-color="#3a538b"/><stop offset="0.2008" stop-color="#433d84"/><stop offset="0.2362" stop-color="#424186"/><stop offset="0.2715" stop-color="#472e7c"/><stop offset="0.3068" stop-color="#424086"/><stop offset="0.3422" stop-color="#375a8c"/><stop offset="0.3775" stop-color="#3f4788"/><stop offset="0.4128" stop-color="#481c6e"/><stop offset="0.4482" stop-color="#46307e"/><stop offset="0.4835" stop-color="#472a7a"/><stop offset="0.5188" stop-color="#414287"/><stop offset="0.5542" stop-color="#453882"/><stop offset="0.5895" stop-color="#443a83"/><stop offset="0.6248" stop-color="#481668"/><stop offset="0.6602" stop-color="#472d7b"/><stop offset="0.6955" stop-color="#472c7a"/><stop offset="0.7308" stop-color="#482979"/><stop offset="0.7662" stop-color="#3f4788"/><stop offset="0.8015" stop-color="#472a7a"/><stop offset="0.8368" stop-color="#424186"/><stop offset="0.8722" stop-color="#404688"/><stop offset="0.9075" stop-color="#481d6f"/><stop offset="0.9428" stop-color="#482878"/><stop offset="0.9782" stop-color="#443a83"/><stop offset="1.0000" stop-color="#433d84"/></linearGradient>
<linearGradient id="g47" x1="0" x2="1" y1="0" y2="0"><stop offset="0.0000" stop-color="#450559"/><stop offset="0.0324" stop-color="#433e85"/><stop offset="0.0800" stop-color="#3c4f8a"/><stop offset="0.1276" stop-color="#3b518b"/><stop offset="0.1752" stop-color="#404588"/><stop offset="0.2228" stop-color="#443b84"/><stop offset="0.2704" stop-color="#3e4989"/><stop offset="0.3180" stop-color="#424086"/><stop offset="0.3656" stop-color="#39568c"/><stop offset="0.4132" stop-color="#34608d"/><stop offset="0.4608" stop-color="#355e8d"/><stop offset="0.5085" stop-color="#443b84"/><stop offset="0.5561" stop-color="#443b84"/><stop offset="0.6037" stop-color="#481769"/><stop offset="0.6513" stop-color="#453781"/><stop offset="0.6989" stop-color="#3b518b"/><stop offset="0.7465" stop-color="#365c8d"/><stop offset="0.7941" stop-color="#463480"/><stop offset="0.8417" stop-color="#3f4788"/><stop offset="0.8893" stop-color="#3d4e8a"/><stop offset="0.9369" stop-color="#414287"/><stop offset="0.9846" stop-color="#3b518b"/><stop offset="1.0000" stop-color="#38588c"/></linearGradient>
<linearGradient id="g48" x1="0" x2="1" y1="0" y2="0"><stop offset="0.0000" stop-color="#33628d"/><stop offset="0.0369" stop-color="#3f4788"/><stop offset="0.0800" stop-color="#31678e"/><stop offset="0.1231" stop-color="#38598c"/><stop offset="0.1662" stop-color="#2e6e8e"/><stop offset="0.2093" stop-color="#355f8d"/><stop offset="0.2524" stop-color="#3a548c"/><stop offset="0.2955" stop-color="#3b528b"/><stop offset="0.3386" stop-color="#3e4989"/><stop offset="0.3817" stop-color="#470e61"/><stop offset="0.4248" stop-color="#46327e"/><stop offset="0.4679" stop-color="#46327e"/><stop offset="0.5110" stop-color="#3a548c"/><stop offset="0.5541" stop-color="#46337f"/><stop offset="0.5972" stop-color="#443a83"/><stop offset="0.6403" stop-color="#3e4989"/><stop offset="0.6834" stop-color="#414487"/><stop offset="0.7265" stop-color="#3b528b"/><stop offset="0.7696" stop-color="#414487"/><stop offset="0.8126" stop-color="#3f4788"/><stop offset="0.8557" stop-color="#3c508b"/><stop offset="0.8988" stop-color="#482878"/><stop offset="0.9419" stop-color="#472f7d"/><stop offset="0.9850" stop-color="#463480"/><stop offset="1.0000" stop-color="#3e4989"/></linearGradient>
<linearGradient id="g49" x1="0" x2="1" y1="0" y2="0"><stop offset="0.0000" stop-color="#482677"/><stop offset="0.0333" stop-color="#463480"/><stop offset="0.0717" stop-color="#482878"/><stop offset="0.1101" stop-color="#414487"/><stop offset="0.1484" stop-color="#3e4989"/><stop offset="0.1868" stop-color="#453781"/><stop offset="0.2252" stop-color="#3d4e8a"/><stop offset="0.2636" stop-color="#2b758e"/><stop offset="0.3019" stop-color="#2d718e"/><stop offset="0.3403" stop-color="#355f8d"/><stop offset="0.3787" stop-color="#433e85"/><stop offset="0.4170" stop-color="#404688"/><stop offset="0.4554" stop-color="#46327e"/><stop offset="0.4938" stop-color="#46337f"/><stop offset="0.5321" stop-color="#3e4a89"/><stop offset="0.5705" stop-color="#34608d"/><stop offset="0.6089" stop-color="#38588c"/><stop offset="0.6473" stop-color="#453581"/><stop offset="0.6856" stop-color="#404588"/><stop offset="0.7240" stop-color="#463480"/><stop offset="0.7624" stop-color="#38598c"/><stop offset="0.8007" stop-color="#443a83"/><stop offset="0.8391" stop-color="#39558c"/><stop offset="0.8775" stop-color="#3a548c"/><stop offset="0.9159" stop-color="#482878"/><stop offset="0.9542" stop-color="#482878"/><stop offset="0.9926" stop-color="#3c4f8a"/><stop offset="1.0000" stop-color="#443b84"/></linearGradient>
<clipPath id="c50"><rect x="567.20" y="179.50" width="83.00" height="6.00"/><rect x="565.00" y="185.50" width="37.80" height="6.00"/><rect x="557.50" y="191.50" width="73.30" height="6.00"/><rect x="560.10" y="197.50" width="54.40" height="6.00"/><rect x="570.00" y="203.50" width="60.10" height="6.00"/><rect x="562.20" y="209.50" width="67.50" height="6.00"/></clipPath>
<linearGradient id="cbar" x1="0" x2="1" y1="0" y2="0"><stop offset="0.000" stop-color="#440154"/><stop offset="0.062" stop-color="#48186a"/><stop offset="0.125" stop-color="#472d7b"/><stop offset="0.188" stop-color="#424086"/><stop offset="0.250" stop-color="#3b528b"/><stop offset="0.312" stop-color="#33638d"/><stop offset="0.375" stop-color="#2c728e"/><stop offset="0.438" stop-color="#26828e"/><stop offset="0.500" stop-color="#21918c"/><stop offset="0.562" stop-color="#1fa088"/><stop offset="0.625" stop-color="#28ae80"/><stop offset="0.688" stop-color="#3fbc73"/><stop offset="0.750" stop-color="#5ec962"/><stop offset="0.812" stop-color="#84d44b"/><stop offset="0.875" stop-color="#addc30"/><stop offset="0.938" stop-color="#d8e219"/><stop offset="1.000" stop-color="#fde725"/></linearGradient>
<radialGradient id="cing" cx="0.55" cy="0.38" r="0.62" fx="0.6" fy="0.3"><stop offset="0" stop-color="#fdfdfd"/><stop offset="0.5" stop-color="#f0f0f0"/><stop offset="0.8" stop-color="#d6d6d6"/><stop offset="1" stop-color="#a0a0a0"/></radialGradient>
<radialGradient id="shadeL" cx="0.5" cy="0.4" r="0.6"><stop offset="0" stop-color="#000" stop-opacity="0"/><stop offset="0.7" stop-color="#000" stop-opacity="0.05"/><stop offset="1" stop-color="#000" stop-opacity="0.3"/></radialGradient></defs>
<rect x="0" y="0" width="685" height="257" fill="#fff"/>
<polygon points="216.1,50.4 214.5,43.6 215.4,38.2 218.8,30.0 223.0,25.2 231.4,15.4 241.3,9.8 248.3,7.0 258.6,4.1 272.2,3.0 285.9,2.7 295.0,3.4 303.2,4.8 308.6,6.8 312.7,6.1 318.2,10.2 322.2,15.0 327.7,21.8 331.1,27.2 333.8,31.0 337.0,38.0 341.0,45.0 343.0,55.0 343.0,62.0 340.0,70.0 337.0,77.0 330.0,81.5 322.0,82.5 312.0,82.5 303.0,86.5 295.0,89.0 288.6,89.3 272.2,90.0 262.7,85.9 258.6,83.8 255.9,79.1 257.3,75.0 262.7,70.9 261.3,65.4 253.2,66.1 245.0,64.1 240.0,62.7 233.1,60.7 225.0,56.6 220.2,53.8" fill="#3a3a3a"/>
<polygon points="215.4,38.2 216.0,36.0 218.8,30.0 223.0,25.2 231.4,15.4 241.3,9.8 248.3,7.0 249.0,6.8 249.0,24.6 229.9,27.8 216.7,34.8" fill="#1f9a2e"/>
<polygon points="248.0,7.0 258.6,4.1 268.5,3.4 268.5,20.4 259.0,21.2 248.0,22.2" fill="#f07c10"/>
<polygon points="268.0,3.4 285.9,2.7 289.5,3.0 289.3,12.0 284.5,19.3 268.0,19.8" fill="#e4e01c"/>
<polygon points="289.3,3.0 295.0,3.4 303.2,4.8 306.5,5.8 302.0,20.0 295.0,20.5 288.0,19.5 284.5,19.3 289.3,12.0" fill="#c43cb8"/>
<polygon points="306.0,5.5 308.6,6.8 312.7,6.1 318.2,10.2 320.5,14.5 313.0,22.0 303.5,18.5" fill="#e8341a"/>
<polygon points="318.2,10.2 322.2,15.0 327.7,21.8 331.1,27.2 333.8,31.0 337.0,38.0 338.0,45.0 331.8,46.3 327.7,38.2 325.7,30.0 320.0,22.0 316.0,17.0" fill="#6e4210"/>
<polygon points="283.0,19.3 289.0,19.5 295.0,20.5 302.0,20.0 300.0,22.0 296.0,30.0 288.6,38.2 285.9,40.9 280.4,45.0 276.5,42.5 279.7,30.0" fill="#6c6c6c"/>
<polygon points="286.0,22.0 289.0,22.0 281.0,42.0 279.0,41.0" fill="#2a2a2a"/>
<polygon points="292.0,22.0 294.0,22.5 285.0,40.0 283.5,39.0" fill="#3a3a3a"/>
<polygon points="302.0,20.0 304.0,18.0 313.0,22.0 310.0,27.0 304.0,34.0 297.0,40.0 291.0,45.0 286.0,45.5 288.6,38.2 296.0,30.0 300.0,22.0" fill="#1c98a8"/>
<polygon points="313.0,22.0 320.0,22.0 325.7,30.0 326.5,37.0 303.0,38.0 304.0,34.0 310.0,27.0" fill="#22b83c"/>
<polygon points="216.7,34.8 229.9,27.8 249.0,24.6 253.0,25.5 253.0,29.5 245.0,33.5 236.0,39.5 226.0,45.7 215.4,38.2" fill="#ea3e1c"/>
<polygon points="249.0,22.4 259.0,21.2 266.3,20.4 266.0,30.0 265.0,42.3 253.0,43.0 252.5,30.0 253.0,25.5" fill="#1eb040"/>
<polygon points="266.3,20.4 283.0,19.3 279.7,30.0 275.5,43.0 270.9,40.9 265.0,42.3 266.0,30.0" fill="#b044c4"/>
<polygon points="226.0,45.7 236.0,39.5 245.0,33.5 253.0,29.5 253.0,43.0 254.5,43.5 245.0,47.5 235.9,50.4 229.7,48.4 225.2,47.0" fill="#4a160a"/>
<polygon points="238.0,40.0 250.0,33.5 251.0,35.0 240.0,41.5" fill="#a02810"/>
<polygon points="215.4,38.2 226.0,45.7 225.2,47.0 222.2,53.8 220.2,53.8 216.1,50.4 214.5,43.6" fill="#98aa1e"/>
<polygon points="225.2,47.0 229.7,48.4 232.8,57.2 228.4,59.3 222.2,53.8" fill="#c82cac"/>
<polygon points="235.9,50.4 245.0,47.2 254.5,43.5 256.5,48.0 257.4,51.7 250.9,53.6 247.1,58.3 236.0,57.5" fill="#3434b4"/>
<polygon points="228.4,59.3 232.8,57.2 236.0,57.5 247.1,58.3 253.7,62.0 262.1,65.8 258.4,66.7 253.2,66.1 245.0,64.1 240.0,62.7 233.1,60.7" fill="#1a8a2a"/>
<polygon points="240.0,58.0 243.0,58.2 250.0,63.5 247.0,64.2" fill="#0c4016"/>
<polygon points="250.0,60.5 253.0,61.5 258.0,65.6 255.0,66.0" fill="#0c4016"/>
<polygon points="254.5,43.0 270.9,40.9 274.5,47.7 271.8,53.2 269.5,59.3 263.0,57.3 257.4,51.7 256.0,48.0" fill="#d49868"/>
<polygon points="271.8,47.7 276.0,43.5 282.0,44.2 288.0,47.0 287.5,55.0 283.5,58.0 277.7,58.6 271.6,57.2" fill="#1e1a6c"/>
<polygon points="288.0,47.0 293.0,44.0 297.0,40.0 303.0,38.0 303.5,46.5 298.0,56.0 290.0,57.8 287.5,55.0" fill="#2eb044"/>
<polygon points="303.0,38.0 326.5,37.0 331.8,46.3 325.0,50.4 315.4,53.2 303.5,46.5" fill="#a430b4"/>
<polygon points="331.8,46.3 338.0,45.0 341.0,45.0 343.0,55.0 343.0,62.0 337.2,65.0 335.2,57.2 335.9,50.4" fill="#a02cac"/>
<polygon points="250.9,53.6 257.4,51.7 263.0,57.3 269.5,59.3 277.7,58.6 283.1,55.9 285.9,57.2 287.0,61.0 279.0,68.2 270.9,71.6 262.7,70.9 262.1,65.8 253.7,62.0 247.1,58.3" fill="#1ec6c6"/>
<ellipse cx="305.9" cy="54.6" rx="10.4" ry="8.2" fill="#d8d418" stroke="#5a5a10" stroke-width="0.8"/>
<polygon points="316.5,54.5 331.8,46.3 335.9,50.4 335.2,57.2 334.5,58.6 322.2,59.3" fill="#e87018"/>
<polygon points="285.9,57.2 298.0,56.5 308.0,60.0 309.0,62.7 295.0,66.8 284.5,70.2 277.7,68.9 279.0,68.2 287.0,61.0" fill="#e070a8"/>
<polygon points="257.3,75.0 262.7,70.9 270.9,71.6 276.3,68.2 279.5,69.5 273.6,75.0 258.6,78.4" fill="#a8aa34"/>
<polygon points="276.3,70.9 284.5,70.2 295.0,66.8 309.0,62.7 322.2,58.6 324.0,60.0 315.4,70.9 295.0,79.1 279.0,80.4" fill="#30c4c8"/>
<polygon points="255.9,79.1 258.6,78.4 273.6,75.0 280.4,77.7 283.1,83.8 272.2,87.2 262.7,85.9 258.6,83.8" fill="#6a74a0"/>
<polygon points="262.7,85.9 272.2,87.2 283.1,83.8 285.9,85.2 288.6,89.3 272.2,90.0" fill="#2a2aa0"/>
<polygon points="279.0,80.4 295.0,79.1 315.4,70.9 312.7,81.8 303.2,85.9 295.0,89.0 288.6,89.3 285.9,85.2 283.1,83.8 280.4,77.7" fill="#20a838"/>
<polygon points="314.1,60.0 322.2,59.3 334.5,58.6 335.9,65.4 335.2,76.3 329.1,81.1 312.7,81.8 315.4,73.6" fill="#22b034"/>
<polygon points="335.9,65.4 337.2,65.0 343.0,62.0 340.0,70.0 337.0,77.0 330.0,81.5 322.0,82.5 329.1,81.1 335.2,76.3" fill="#7c1010"/>
<polygon points="355.8,42.8 358.5,36.0 361.7,31.1 369.5,21.4 377.2,13.6 384.0,6.8 391.8,5.8 396.7,2.9 400.0,2.7 413.2,2.7 425.4,3.4 439.1,4.8 450.0,7.5 455.0,9.5 463.2,15.0 471.3,23.2 478.2,33.2 481.8,45.0 482.7,54.7 479.8,64.5 472.0,68.4 460.3,69.9 448.6,70.3 442.8,69.4 438.9,68.4 432.3,70.0 433.0,74.0 437.0,80.0 437.0,85.0 433.9,88.4 418.3,89.2 402.8,88.4 395.0,87.0 383.9,85.5 368.3,85.3 357.4,83.0 351.2,76.8 351.2,70.5 350.4,64.3 351.2,55.0 355.0,47.7" fill="#3a3a3a"/>
<polygon points="355.0,47.7 355.8,42.8 358.5,36.0 361.7,31.1 369.5,21.4 377.2,13.6 385.0,23.3 390.9,31.1 388.0,38.9 381.1,46.7 379.5,50.0 380.9,57.2 372.7,53.2 361.8,48.5" fill="#4a3cb8"/>
<polygon points="355.8,42.8 358.5,36.0 361.7,31.1 360.5,38.0 358.5,45.0" fill="#6a5a20"/>
<polygon points="377.2,13.6 381.0,9.5 384.0,6.8 391.8,5.8 396.7,19.5 399.6,29.2 390.9,31.1 385.0,23.3" fill="#e63a18"/>
<polygon points="391.8,5.8 396.7,2.9 400.0,2.7 408.4,3.4 412.5,2.7 414.5,11.7 414.0,25.3 408.4,30.2 399.6,29.2 396.7,19.5" fill="#c444b8"/>
<polygon points="412.5,2.7 425.4,3.4 430.2,4.1 432.2,19.1 431.6,24.5 418.6,23.8 413.2,25.3 414.0,25.3 414.5,11.7" fill="#e6e41e"/>
<polygon points="430.2,4.1 439.1,4.8 445.9,6.1 443.1,27.2 432.2,25.9 432.2,19.1" fill="#f08010"/>
<polygon points="445.9,6.1 450.0,7.5 455.0,9.5 463.2,15.0 471.3,23.2 476.0,30.0 468.6,37.3 459.1,40.0 455.0,33.2 443.1,28.6 443.1,27.2" fill="#e6e41e"/>
<polygon points="452.0,8.3 455.0,9.5 463.2,15.0 471.3,23.2 478.2,33.2 474.5,36.0 469.5,29.0 461.0,19.0 451.0,11.5" fill="#1e9e2a"/>
<polygon points="456.0,36.5 468.6,36.0 476.5,35.0 478.2,33.2 481.8,45.0 482.7,54.7 479.8,64.5 472.0,68.4 460.3,69.9 448.6,70.3 439.9,69.9 450.5,67.8 459.1,63.5 462.3,57.0 462.3,48.5 459.1,40.0" fill="#c8880e"/>
<polygon points="406.4,37.0 408.4,30.2 413.2,25.3 418.6,23.8 432.2,24.5 441.0,28.5 442.0,34.6 429.2,34.0 414.2,34.6 403.5,36.8" fill="#3e0a0a"/>
<polygon points="441.0,28.5 447.0,30.3 452.7,33.6 459.1,40.0 462.3,48.5 462.3,57.0 459.1,63.5 450.5,67.8 439.9,69.9 433.0,71.5 435.6,67.8 444.1,64.5 453.7,59.2 455.9,52.8 454.8,44.2 450.5,37.8 442.0,34.6" fill="#3232b4"/>
<polygon points="381.1,46.7 388.0,38.9 390.9,31.1 399.6,29.2 408.4,30.2 406.4,37.0 403.5,36.8 396.0,41.0 390.7,48.5 390.7,57.1 381.0,59.2 379.5,50.0" fill="#d8a81c"/>
<polygon points="390.7,48.5 396.0,41.0 403.5,36.8 414.2,34.6 429.2,34.0 442.0,34.6 450.5,37.8 454.8,44.2 455.9,52.8 453.7,59.2 444.1,64.5 435.6,67.8 431.3,71.0 430.2,76.3 426.0,76.3 422.8,73.1 412.0,71.0 401.4,68.8 395.0,64.5 390.7,57.1" fill="url(#cing)"/>
<polygon points="351.2,55.0 355.0,47.7 361.8,47.7 372.7,53.2 380.9,57.2 380.8,64.3 373.0,65.9 363.7,67.4 359.0,69.0 351.2,70.5 350.4,64.3" fill="#9028b4"/>
<polygon points="380.9,57.2 390.7,57.1 395.0,64.5 401.4,68.8 412.0,71.0 422.8,73.1 426.0,76.3 413.7,75.2 407.8,75.2 397.9,73.7 380.8,64.3" fill="#22b034"/>
<polygon points="363.7,67.4 373.0,65.9 380.8,64.3 391.6,70.5 394.7,74.4 383.9,73.7 368.3,71.3" fill="#764a18"/>
<polygon points="351.2,70.5 359.0,69.0 368.3,71.3 383.9,73.7 394.7,74.4 397.9,76.8 396.3,83.0 383.9,84.5 368.3,85.3 357.4,83.0 351.2,76.8" fill="#e8401a"/>
<polygon points="396.3,75.2 401.4,74.2 407.8,75.2 413.7,75.2 426.0,76.3 430.2,76.3 428.0,80.0 424.5,82.2 410.5,84.5 396.3,84.5" fill="#d8b012"/>
<polygon points="395.0,84.5 410.5,84.5 426.1,78.3 432.3,78.3 437.0,83.0 433.9,88.4 418.3,89.2 402.8,88.4" fill="#2a2aaa"/>
<polygon points="426.0,74.0 432.3,70.0 433.0,74.0 437.0,80.0 437.0,83.0 432.3,78.3 426.1,78.3" fill="#505068"/>
<polygon points="383.9,84.5 396.3,84.5 402.8,88.4 395.0,87.3 383.9,85.5" fill="#22a030"/>
<polygon points="216.1,50.4 214.5,43.6 215.4,38.2 218.8,30.0 223.0,25.2 231.4,15.4 241.3,9.8 248.3,7.0 258.6,4.1 272.2,3.0 285.9,2.7 295.0,3.4 303.2,4.8 308.6,6.8 312.7,6.1 318.2,10.2 322.2,15.0 327.7,21.8 331.1,27.2 333.8,31.0 337.0,38.0 341.0,45.0 343.0,55.0 343.0,62.0 340.0,70.0 337.0,77.0 330.0,81.5 322.0,82.5 312.0,82.5 303.0,86.5 295.0,89.0 288.6,89.3 272.2,90.0 262.7,85.9 258.6,83.8 255.9,79.1 257.3,75.0 262.7,70.9 261.3,65.4 253.2,66.1 245.0,64.1 240.0,62.7 233.1,60.7 225.0,56.6 220.2,53.8" fill="url(#shadeL)"/>
<polygon points="355.8,42.8 358.5,36.0 361.7,31.1 369.5,21.4 377.2,13.6 384.0,6.8 391.8,5.8 396.7,2.9 400.0,2.7 413.2,2.7 425.4,3.4 439.1,4.8 450.0,7.5 455.0,9.5 463.2,15.0 471.3,23.2 478.2,33.2 481.8,45.0 482.7,54.7 479.8,64.5 472.0,68.4 460.3,69.9 448.6,70.3 442.8,69.4 438.9,68.4 432.3,70.0 433.0,74.0 437.0,80.0 437.0,85.0 433.9,88.4 418.3,89.2 402.8,88.4 395.0,87.0 383.9,85.5 368.3,85.3 357.4,83.0 351.2,76.8 351.2,70.5 350.4,64.3 351.2,55.0 355.0,47.7" fill="url(#shadeL)"/>
<polygon points="216.1,50.4 214.5,43.6 215.4,38.2 218.8,30.0 223.0,25.2 231.4,15.4 241.3,9.8 248.3,7.0 258.6,4.1 272.2,3.0 285.9,2.7 295.0,3.4 303.2,4.8 308.6,6.8 312.7,6.1 318.2,10.2 322.2,15.0 327.7,21.8 331.1,27.2 333.8,31.0 337.0,38.0 341.0,45.0 343.0,55.0 343.0,62.0 340.0,70.0 337.0,77.0 330.0,81.5 322.0,82.5 312.0,82.5 303.0,86.5 295.0,89.0 288.6,89.3 272.2,90.0 262.7,85.9 258.6,83.8 255.9,79.1 257.3,75.0 262.7,70.9 261.3,65.4 253.2,66.1 245.0,64.1 240.0,62.7 233.1,60.7 225.0,56.6 220.2,53.8" fill="none" stroke="#000" stroke-opacity="0.35" stroke-width="1.2" stroke-linejoin="round"/>
<polygon points="355.8,42.8 358.5,36.0 361.7,31.1 369.5,21.4 377.2,13.6 384.0,6.8 391.8,5.8 396.7,2.9 400.0,2.7 413.2,2.7 425.4,3.4 439.1,4.8 450.0,7.5 455.0,9.5 463.2,15.0 471.3,23.2 478.2,33.2 481.8,45.0 482.7,54.7 479.8,64.5 472.0,68.4 460.3,69.9 448.6,70.3 442.8,69.4 438.9,68.4 432.3,70.0 433.0,74.0 437.0,80.0 437.0,85.0 433.9,88.4 418.3,89.2 402.8,88.4 395.0,87.0 383.9,85.5 368.3,85.3 357.4,83.0 351.2,76.8 351.2,70.5 350.4,64.3 351.2,55.0 355.0,47.7" fill="none" stroke="#000" stroke-opacity="0.35" stroke-width="1.2" stroke-linejoin="round"/>
<g clip-path="url(#c7)"><rect x="60.30" y="26.40" width="73.30" height="7.65" fill="url(#g1)"/><rect x="57.90" y="33.55" width="96.40" height="7.65" fill="url(#g2)"/><rect x="65.80" y="40.70" width="86.10" height="7.65" fill="url(#g3)"/><rect x="83.90" y="47.85" width="65.10" height="7.65" fill="url(#g4)"/><rect x="60.30" y="55.00" width="83.20" height="7.65" fill="url(#g5)"/><rect x="147.90" y="147.95" width="18.60" height="7.65" fill="url(#g6)"/><g filter="url(#vblur)"><rect x="60.30" y="26.40" width="73.30" height="7.65" fill="url(#g1)"/><rect x="57.90" y="33.55" width="96.40" height="7.65" fill="url(#g2)"/><rect x="65.80" y="40.70" width="86.10" height="7.65" fill="url(#g3)"/><rect x="83.90" y="47.85" width="65.10" height="7.65" fill="url(#g4)"/><rect x="60.30" y="55.00" width="83.20" height="7.65" fill="url(#g5)"/><rect x="147.90" y="147.95" width="18.60" height="7.65" fill="url(#g6)"/></g></g>
<line x1="23.50" x2="166.50" y1="23.07" y2="23.07" class="hg"/>
<line x1="23.50" x2="166.50" y1="30.23" y2="30.23" class="hg"/>
<line x1="23.50" x2="166.50" y1="37.38" y2="37.38" class="hg"/>
<line x1="23.50" x2="166.50" y1="44.53" y2="44.53" class="hg"/>
<line x1="23.50" x2="166.50" y1="51.68" y2="51.68" class="hg"/>
<line x1="23.50" x2="166.50" y1="58.83" y2="58.83" class="hg"/>
<line x1="23.50" x2="166.50" y1="65.97" y2="65.97" class="hg"/>
<line x1="23.50" x2="166.50" y1="73.12" y2="73.12" class="hg"/>
<line x1="23.50" x2="166.50" y1="80.28" y2="80.28" class="hg"/>
<line x1="23.50" x2="166.50" y1="87.42" y2="87.42" class="hg"/>
<line x1="23.50" x2="166.50" y1="94.58" y2="94.58" class="hg"/>
<line x1="23.50" x2="166.50" y1="101.73" y2="101.73" class="hg"/>
<line x1="23.50" x2="166.50" y1="108.88" y2="108.88" class="hg"/>
<line x1="23.50" x2="166.50" y1="116.03" y2="116.03" class="hg"/>
<line x1="23.50" x2="166.50" y1="123.18" y2="123.18" class="hg"/>
<line x1="23.50" x2="166.50" y1="130.32" y2="130.32" class="hg"/>
<line x1="23.50" x2="166.50" y1="137.48" y2="137.48" class="hg"/>
<line x1="23.50" x2="166.50" y1="144.62" y2="144.62" class="hg"/>
<line x1="23.50" x2="166.50" y1="151.78" y2="151.78" class="hg"/>
<line x1="23.50" x2="166.50" y1="158.93" y2="158.93" class="hg"/>
<line x1="62.90" x2="62.90" y1="19.50" y2="162.50" class="vg"/>
<line x1="88.80" x2="88.80" y1="19.50" y2="162.50" class="vg"/>
<line x1="114.70" x2="114.70" y1="19.50" y2="162.50" class="vg"/>
<line x1="140.60" x2="140.60" y1="19.50" y2="162.50" class="vg"/>
<line x1="37.00" x2="37.00" y1="19.50" y2="162.50" class="z0"/>
<rect x="23.50" y="19.50" width="143.00" height="143.00" class="fr"/>
<line x1="37.00" x2="37.00" y1="162.50" y2="160.90" class="tk"/>
<line x1="62.90" x2="62.90" y1="162.50" y2="160.90" class="tk"/>
<line x1="88.80" x2="88.80" y1="162.50" y2="160.90" class="tk"/>
<line x1="114.70" x2="114.70" y1="162.50" y2="160.90" class="tk"/>
<line x1="140.60" x2="140.60" y1="162.50" y2="160.90" class="tk"/>
<line x1="166.50" x2="166.50" y1="162.50" y2="160.90" class="tk"/>
<text x="20.60" y="25.38" font-size="6.70" text-anchor="end" fill="#000" stroke="#000" stroke-width="0.12" textLength="17.70" lengthAdjust="spacingAndGlyphs">Insula</text>
<text x="20.60" y="32.52" font-size="6.70" text-anchor="end" fill="#000" stroke="#000" stroke-width="0.12" textLength="12.27" lengthAdjust="spacingAndGlyphs">ACC</text>
<text x="20.60" y="39.67" font-size="6.70" text-anchor="end" fill="#000" stroke="#000" stroke-width="0.12" textLength="20.48" lengthAdjust="spacingAndGlyphs">PFCvm</text>
<text x="20.60" y="46.83" font-size="6.70" text-anchor="end" fill="#000" stroke="#000" stroke-width="0.12" textLength="21.58" lengthAdjust="spacingAndGlyphs">OFCvm</text>
<text x="20.60" y="53.98" font-size="6.70" text-anchor="end" fill="#000" stroke="#000" stroke-width="0.12" textLength="15.78" lengthAdjust="spacingAndGlyphs">OFCv</text>
<text x="20.60" y="61.12" font-size="6.70" text-anchor="end" fill="#000" stroke="#000" stroke-width="0.12" textLength="17.43" lengthAdjust="spacingAndGlyphs">OFCvl</text>
<text x="20.60" y="68.27" font-size="6.70" text-anchor="end" fill="#000" stroke="#000" stroke-width="0.12" textLength="14.72" lengthAdjust="spacingAndGlyphs">PFrm</text>
<text x="20.60" y="75.42" font-size="6.70" text-anchor="end" fill="#000" stroke="#000" stroke-width="0.12" textLength="12.70" lengthAdjust="spacingAndGlyphs">PFrd</text>
<text x="20.60" y="82.58" font-size="6.70" text-anchor="end" fill="#000" stroke="#000" stroke-width="0.12" textLength="17.45" lengthAdjust="spacingAndGlyphs">PFrdls</text>
<text x="20.60" y="89.72" font-size="6.70" text-anchor="end" fill="#000" stroke="#000" stroke-width="0.12" textLength="16.00" lengthAdjust="spacingAndGlyphs">PFrdli</text>
<text x="20.60" y="96.88" font-size="6.70" text-anchor="end" fill="#000" stroke="#000" stroke-width="0.12" textLength="14.20" lengthAdjust="spacingAndGlyphs">PFrvl</text>
<text x="20.60" y="104.03" font-size="6.70" text-anchor="end" fill="#000" stroke="#000" stroke-width="0.12" textLength="13.44" lengthAdjust="spacingAndGlyphs">MCC</text>
<text x="20.60" y="111.17" font-size="6.70" text-anchor="end" fill="#000" stroke="#000" stroke-width="0.12" textLength="19.85" lengthAdjust="spacingAndGlyphs">PFcdm</text>
<text x="20.60" y="118.33" font-size="6.70" text-anchor="end" fill="#000" stroke="#000" stroke-width="0.12" textLength="15.71" lengthAdjust="spacingAndGlyphs">PFcdl</text>
<text x="20.60" y="125.48" font-size="6.70" text-anchor="end" fill="#000" stroke="#000" stroke-width="0.12" textLength="18.29" lengthAdjust="spacingAndGlyphs">PMdm</text>
<text x="20.60" y="132.62" font-size="6.70" text-anchor="end" fill="#000" stroke="#000" stroke-width="0.12" textLength="14.15" lengthAdjust="spacingAndGlyphs">PMdl</text>
<text x="20.60" y="139.78" font-size="6.70" text-anchor="end" fill="#000" stroke="#000" stroke-width="0.12" textLength="14.69" lengthAdjust="spacingAndGlyphs">PMrv</text>
<text x="20.60" y="146.93" font-size="6.70" text-anchor="end" fill="#000" stroke="#000" stroke-width="0.12" textLength="14.71" lengthAdjust="spacingAndGlyphs">Mdm</text>
<text x="20.60" y="154.08" font-size="6.70" text-anchor="end" fill="#000" stroke="#000" stroke-width="0.12" textLength="10.56" lengthAdjust="spacingAndGlyphs">Mdl</text>
<text x="20.60" y="161.23" font-size="6.70" text-anchor="end" fill="#000" stroke="#000" stroke-width="0.12" textLength="8.65" lengthAdjust="spacingAndGlyphs">Mv</text>
<text x="37.00" y="170.30" font-size="6.70" text-anchor="middle" fill="#000" stroke="#000" stroke-width="0.12" textLength="9.46" lengthAdjust="spacingAndGlyphs">0.0</text>
<text x="62.90" y="170.30" font-size="6.70" text-anchor="middle" fill="#000" stroke="#000" stroke-width="0.12" textLength="9.46" lengthAdjust="spacingAndGlyphs">0.2</text>
<text x="88.80" y="170.30" font-size="6.70" text-anchor="middle" fill="#000" stroke="#000" stroke-width="0.12" textLength="9.46" lengthAdjust="spacingAndGlyphs">0.4</text>
<text x="114.70" y="170.30" font-size="6.70" text-anchor="middle" fill="#000" stroke="#000" stroke-width="0.12" textLength="9.46" lengthAdjust="spacingAndGlyphs">0.6</text>
<text x="140.60" y="170.30" font-size="6.70" text-anchor="middle" fill="#000" stroke="#000" stroke-width="0.12" textLength="9.46" lengthAdjust="spacingAndGlyphs">0.8</text>
<text x="166.50" y="170.30" font-size="6.70" text-anchor="middle" fill="#000" stroke="#000" stroke-width="0.12" textLength="9.46" lengthAdjust="spacingAndGlyphs">1.0</text>
<text x="95.00" y="15.60" font-size="8.00" text-anchor="middle" font-weight="bold" fill="#000" stroke="#000" stroke-width="0.35" textLength="42.23" lengthAdjust="spacingAndGlyphs">Frontal (L)</text>
<g clip-path="url(#c9)"><rect x="57.20" y="197.25" width="53.60" height="6.50" fill="url(#g8)"/><g filter="url(#vblur)"><rect x="57.20" y="197.25" width="53.60" height="6.50" fill="url(#g8)"/></g></g>
<line x1="23.50" x2="166.50" y1="182.50" y2="182.50" class="hg"/>
<line x1="23.50" x2="166.50" y1="188.50" y2="188.50" class="hg"/>
<line x1="23.50" x2="166.50" y1="194.50" y2="194.50" class="hg"/>
<line x1="23.50" x2="166.50" y1="200.50" y2="200.50" class="hg"/>
<line x1="23.50" x2="166.50" y1="206.50" y2="206.50" class="hg"/>
<line x1="23.50" x2="166.50" y1="212.50" y2="212.50" class="hg"/>
<line x1="62.90" x2="62.90" y1="179.50" y2="215.50" class="vg"/>
<line x1="88.80" x2="88.80" y1="179.50" y2="215.50" class="vg"/>
<line x1="114.70" x2="114.70" y1="179.50" y2="215.50" class="vg"/>
<line x1="140.60" x2="140.60" y1="179.50" y2="215.50" class="vg"/>
<line x1="37.00" x2="37.00" y1="179.50" y2="215.50" class="z0"/>
<rect x="23.50" y="179.50" width="143.00" height="36.00" class="fr"/>
<line x1="37.00" x2="37.00" y1="215.50" y2="213.90" class="tk"/>
<line x1="62.90" x2="62.90" y1="215.50" y2="213.90" class="tk"/>
<line x1="88.80" x2="88.80" y1="215.50" y2="213.90" class="tk"/>
<line x1="114.70" x2="114.70" y1="215.50" y2="213.90" class="tk"/>
<line x1="140.60" x2="140.60" y1="215.50" y2="213.90" class="tk"/>
<line x1="166.50" x2="166.50" y1="215.50" y2="213.90" class="tk"/>
<text x="20.60" y="184.80" font-size="6.30" text-anchor="end" fill="#000" stroke="#000" stroke-width="0.12" textLength="15.02" lengthAdjust="spacingAndGlyphs">MTCr</text>
<text x="20.60" y="190.80" font-size="6.30" text-anchor="end" fill="#000" stroke="#000" stroke-width="0.12" textLength="13.66" lengthAdjust="spacingAndGlyphs">STCr</text>
<text x="20.60" y="196.80" font-size="6.30" text-anchor="end" fill="#000" stroke="#000" stroke-width="0.12" textLength="14.49" lengthAdjust="spacingAndGlyphs">STCc</text>
<text x="20.60" y="202.80" font-size="6.30" text-anchor="end" fill="#000" stroke="#000" stroke-width="0.12" textLength="15.85" lengthAdjust="spacingAndGlyphs">MTCc</text>
<text x="20.60" y="208.80" font-size="6.30" text-anchor="end" fill="#000" stroke="#000" stroke-width="0.12" textLength="11.64" lengthAdjust="spacingAndGlyphs">ITCr</text>
<text x="20.60" y="214.80" font-size="6.30" text-anchor="end" fill="#000" stroke="#000" stroke-width="0.12" textLength="14.99" lengthAdjust="spacingAndGlyphs">ITCm</text>
<text x="37.00" y="223.30" font-size="6.70" text-anchor="middle" fill="#000" stroke="#000" stroke-width="0.12" textLength="9.46" lengthAdjust="spacingAndGlyphs">0.0</text>
<text x="62.90" y="223.30" font-size="6.70" text-anchor="middle" fill="#000" stroke="#000" stroke-width="0.12" textLength="9.46" lengthAdjust="spacingAndGlyphs">0.2</text>
<text x="88.80" y="223.30" font-size="6.70" text-anchor="middle" fill="#000" stroke="#000" stroke-width="0.12" textLength="9.46" lengthAdjust="spacingAndGlyphs">0.4</text>
<text x="114.70" y="223.30" font-size="6.70" text-anchor="middle" fill="#000" stroke="#000" stroke-width="0.12" textLength="9.46" lengthAdjust="spacingAndGlyphs">0.6</text>
<text x="140.60" y="223.30" font-size="6.70" text-anchor="middle" fill="#000" stroke="#000" stroke-width="0.12" textLength="9.46" lengthAdjust="spacingAndGlyphs">0.8</text>
<text x="166.50" y="223.30" font-size="6.70" text-anchor="middle" fill="#000" stroke="#000" stroke-width="0.12" textLength="9.46" lengthAdjust="spacingAndGlyphs">1.0</text>
<text x="95.00" y="175.60" font-size="8.00" text-anchor="middle" font-weight="bold" fill="#000" stroke="#000" stroke-width="0.35" textLength="50.64" lengthAdjust="spacingAndGlyphs">Temporal (L)</text>
<text x="95.00" y="230.70" font-size="6.70" text-anchor="middle" fill="#000" stroke="#000" stroke-width="0.12" textLength="24.20" lengthAdjust="spacingAndGlyphs">Time (s)</text>
<g clip-path="url(#c14)"><rect x="328.20" y="124.95" width="9.30" height="7.20" fill="url(#g10)"/><rect x="214.30" y="145.05" width="38.80" height="7.20" fill="url(#g11)"/><rect x="214.30" y="151.75" width="36.90" height="7.20" fill="url(#g12)"/><rect x="222.20" y="178.55" width="59.80" height="7.20" fill="url(#g13)"/><g filter="url(#vblur)"><rect x="328.20" y="124.95" width="9.30" height="7.20" fill="url(#g10)"/><rect x="214.30" y="145.05" width="38.80" height="7.20" fill="url(#g11)"/><rect x="214.30" y="151.75" width="36.90" height="7.20" fill="url(#g12)"/><rect x="222.20" y="178.55" width="59.80" height="7.20" fill="url(#g13)"/></g></g>
<line x1="195.50" x2="337.50" y1="121.85" y2="121.85" class="hg"/>
<line x1="195.50" x2="337.50" y1="128.55" y2="128.55" class="hg"/>
<line x1="195.50" x2="337.50" y1="135.25" y2="135.25" class="hg"/>
<line x1="195.50" x2="337.50" y1="141.95" y2="141.95" class="hg"/>
<line x1="195.50" x2="337.50" y1="148.65" y2="148.65" class="hg"/>
<line x1="195.50" x2="337.50" y1="155.35" y2="155.35" class="hg"/>
<line x1="195.50" x2="337.50" y1="162.05" y2="162.05" class="hg"/>
<line x1="195.50" x2="337.50" y1="168.75" y2="168.75" class="hg"/>
<line x1="195.50" x2="337.50" y1="175.45" y2="175.45" class="hg"/>
<line x1="195.50" x2="337.50" y1="182.15" y2="182.15" class="hg"/>
<line x1="234.30" x2="234.30" y1="118.50" y2="185.50" class="vg"/>
<line x1="260.10" x2="260.10" y1="118.50" y2="185.50" class="vg"/>
<line x1="285.90" x2="285.90" y1="118.50" y2="185.50" class="vg"/>
<line x1="311.70" x2="311.70" y1="118.50" y2="185.50" class="vg"/>
<line x1="208.50" x2="208.50" y1="118.50" y2="185.50" class="z0"/>
<rect x="195.50" y="118.50" width="142.00" height="67.00" class="fr"/>
<line x1="208.50" x2="208.50" y1="185.50" y2="183.90" class="tk"/>
<line x1="234.30" x2="234.30" y1="185.50" y2="183.90" class="tk"/>
<line x1="260.10" x2="260.10" y1="185.50" y2="183.90" class="tk"/>
<line x1="285.90" x2="285.90" y1="185.50" y2="183.90" class="tk"/>
<line x1="311.70" x2="311.70" y1="185.50" y2="183.90" class="tk"/>
<line x1="337.50" x2="337.50" y1="185.50" y2="183.90" class="tk"/>
<text x="192.60" y="124.15" font-size="6.70" text-anchor="end" fill="#000" stroke="#000" stroke-width="0.12" textLength="13.35" lengthAdjust="spacingAndGlyphs">Sdm</text>
<text x="192.60" y="130.85" font-size="6.70" text-anchor="end" fill="#000" stroke="#000" stroke-width="0.12" textLength="9.21" lengthAdjust="spacingAndGlyphs">Sdl</text>
<text x="192.60" y="137.55" font-size="6.70" text-anchor="end" fill="#000" stroke="#000" stroke-width="0.12" textLength="7.30" lengthAdjust="spacingAndGlyphs">Sv</text>
<text x="192.60" y="144.25" font-size="6.70" text-anchor="end" fill="#000" stroke="#000" stroke-width="0.12" textLength="11.90" lengthAdjust="spacingAndGlyphs">PCC</text>
<text x="192.60" y="150.95" font-size="6.70" text-anchor="end" fill="#000" stroke="#000" stroke-width="0.12" textLength="13.54" lengthAdjust="spacingAndGlyphs">PCm</text>
<text x="192.60" y="157.65" font-size="6.70" text-anchor="end" fill="#000" stroke="#000" stroke-width="0.12" textLength="17.32" lengthAdjust="spacingAndGlyphs">SPCm</text>
<text x="192.60" y="164.35" font-size="6.70" text-anchor="end" fill="#000" stroke="#000" stroke-width="0.12" textLength="11.52" lengthAdjust="spacingAndGlyphs">SPC</text>
<text x="192.60" y="171.05" font-size="6.70" text-anchor="end" fill="#000" stroke="#000" stroke-width="0.12" textLength="13.27" lengthAdjust="spacingAndGlyphs">IPCd</text>
<text x="192.60" y="177.75" font-size="6.70" text-anchor="end" fill="#000" stroke="#000" stroke-width="0.12" textLength="13.02" lengthAdjust="spacingAndGlyphs">IPCv</text>
<text x="192.60" y="184.45" font-size="6.70" text-anchor="end" fill="#000" stroke="#000" stroke-width="0.12" textLength="10.06" lengthAdjust="spacingAndGlyphs">ICC</text>
<text x="208.50" y="193.30" font-size="6.70" text-anchor="middle" fill="#000" stroke="#000" stroke-width="0.12" textLength="9.46" lengthAdjust="spacingAndGlyphs">0.0</text>
<text x="234.30" y="193.30" font-size="6.70" text-anchor="middle" fill="#000" stroke="#000" stroke-width="0.12" textLength="9.46" lengthAdjust="spacingAndGlyphs">0.2</text>
<text x="260.10" y="193.30" font-size="6.70" text-anchor="middle" fill="#000" stroke="#000" stroke-width="0.12" textLength="9.46" lengthAdjust="spacingAndGlyphs">0.4</text>
<text x="285.90" y="193.30" font-size="6.70" text-anchor="middle" fill="#000" stroke="#000" stroke-width="0.12" textLength="9.46" lengthAdjust="spacingAndGlyphs">0.6</text>
<text x="311.70" y="193.30" font-size="6.70" text-anchor="middle" fill="#000" stroke="#000" stroke-width="0.12" textLength="9.46" lengthAdjust="spacingAndGlyphs">0.8</text>
<text x="337.50" y="193.30" font-size="6.70" text-anchor="middle" fill="#000" stroke="#000" stroke-width="0.12" textLength="9.46" lengthAdjust="spacingAndGlyphs">1.0</text>
<text x="266.50" y="114.60" font-size="8.00" text-anchor="middle" font-weight="bold" fill="#000" stroke="#000" stroke-width="0.35" textLength="44.97" lengthAdjust="spacingAndGlyphs">Parietal (L)</text>
<g clip-path="url(#c18)"><rect x="390.00" y="145.05" width="44.90" height="7.20" fill="url(#g15)"/><rect x="390.00" y="171.85" width="86.90" height="7.20" fill="url(#g16)"/><rect x="372.40" y="178.55" width="47.50" height="7.20" fill="url(#g17)"/><g filter="url(#vblur)"><rect x="390.00" y="145.05" width="44.90" height="7.20" fill="url(#g15)"/><rect x="390.00" y="171.85" width="86.90" height="7.20" fill="url(#g16)"/><rect x="372.40" y="178.55" width="47.50" height="7.20" fill="url(#g17)"/></g></g>
<line x1="366.50" x2="509.50" y1="121.85" y2="121.85" class="hg"/>
<line x1="366.50" x2="509.50" y1="128.55" y2="128.55" class="hg"/>
<line x1="366.50" x2="509.50" y1="135.25" y2="135.25" class="hg"/>
<line x1="366.50" x2="509.50" y1="141.95" y2="141.95" class="hg"/>
<line x1="366.50" x2="509.50" y1="148.65" y2="148.65" class="hg"/>
<line x1="366.50" x2="509.50" y1="155.35" y2="155.35" class="hg"/>
<line x1="366.50" x2="509.50" y1="162.05" y2="162.05" class="hg"/>
<line x1="366.50" x2="509.50" y1="168.75" y2="168.75" class="hg"/>
<line x1="366.50" x2="509.50" y1="175.45" y2="175.45" class="hg"/>
<line x1="366.50" x2="509.50" y1="182.15" y2="182.15" class="hg"/>
<line x1="405.90" x2="405.90" y1="118.50" y2="185.50" class="vg"/>
<line x1="431.80" x2="431.80" y1="118.50" y2="185.50" class="vg"/>
<line x1="457.70" x2="457.70" y1="118.50" y2="185.50" class="vg"/>
<line x1="483.60" x2="483.60" y1="118.50" y2="185.50" class="vg"/>
<line x1="380.00" x2="380.00" y1="118.50" y2="185.50" class="z0"/>
<rect x="366.50" y="118.50" width="143.00" height="67.00" class="fr"/>
<line x1="380.00" x2="380.00" y1="185.50" y2="183.90" class="tk"/>
<line x1="405.90" x2="405.90" y1="185.50" y2="183.90" class="tk"/>
<line x1="431.80" x2="431.80" y1="185.50" y2="183.90" class="tk"/>
<line x1="457.70" x2="457.70" y1="185.50" y2="183.90" class="tk"/>
<line x1="483.60" x2="483.60" y1="185.50" y2="183.90" class="tk"/>
<line x1="509.50" x2="509.50" y1="185.50" y2="183.90" class="tk"/>
<text x="363.60" y="124.15" font-size="6.70" text-anchor="end" fill="#000" stroke="#000" stroke-width="0.12" textLength="13.35" lengthAdjust="spacingAndGlyphs">Sdm</text>
<text x="363.60" y="130.85" font-size="6.70" text-anchor="end" fill="#000" stroke="#000" stroke-width="0.12" textLength="9.21" lengthAdjust="spacingAndGlyphs">Sdl</text>
<text x="363.60" y="137.55" font-size="6.70" text-anchor="end" fill="#000" stroke="#000" stroke-width="0.12" textLength="7.30" lengthAdjust="spacingAndGlyphs">Sv</text>
<text x="363.60" y="144.25" font-size="6.70" text-anchor="end" fill="#000" stroke="#000" stroke-width="0.12" textLength="11.90" lengthAdjust="spacingAndGlyphs">PCC</text>
<text x="363.60" y="150.95" font-size="6.70" text-anchor="end" fill="#000" stroke="#000" stroke-width="0.12" textLength="13.54" lengthAdjust="spacingAndGlyphs">PCm</text>
<text x="363.60" y="157.65" font-size="6.70" text-anchor="end" fill="#000" stroke="#000" stroke-width="0.12" textLength="17.32" lengthAdjust="spacingAndGlyphs">SPCm</text>
<text x="363.60" y="164.35" font-size="6.70" text-anchor="end" fill="#000" stroke="#000" stroke-width="0.12" textLength="11.52" lengthAdjust="spacingAndGlyphs">SPC</text>
<text x="363.60" y="171.05" font-size="6.70" text-anchor="end" fill="#000" stroke="#000" stroke-width="0.12" textLength="13.27" lengthAdjust="spacingAndGlyphs">IPCd</text>
<text x="363.60" y="177.75" font-size="6.70" text-anchor="end" fill="#000" stroke="#000" stroke-width="0.12" textLength="13.02" lengthAdjust="spacingAndGlyphs">IPCv</text>
<text x="363.60" y="184.45" font-size="6.70" text-anchor="end" fill="#000" stroke="#000" stroke-width="0.12" textLength="10.06" lengthAdjust="spacingAndGlyphs">ICC</text>
<text x="380.00" y="193.30" font-size="6.70" text-anchor="middle" fill="#000" stroke="#000" stroke-width="0.12" textLength="9.46" lengthAdjust="spacingAndGlyphs">0.0</text>
<text x="405.90" y="193.30" font-size="6.70" text-anchor="middle" fill="#000" stroke="#000" stroke-width="0.12" textLength="9.46" lengthAdjust="spacingAndGlyphs">0.2</text>
<text x="431.80" y="193.30" font-size="6.70" text-anchor="middle" fill="#000" stroke="#000" stroke-width="0.12" textLength="9.46" lengthAdjust="spacingAndGlyphs">0.4</text>
<text x="457.70" y="193.30" font-size="6.70" text-anchor="middle" fill="#000" stroke="#000" stroke-width="0.12" textLength="9.46" lengthAdjust="spacingAndGlyphs">0.6</text>
<text x="483.60" y="193.30" font-size="6.70" text-anchor="middle" fill="#000" stroke="#000" stroke-width="0.12" textLength="9.46" lengthAdjust="spacingAndGlyphs">0.8</text>
<text x="509.50" y="193.30" font-size="6.70" text-anchor="middle" fill="#000" stroke="#000" stroke-width="0.12" textLength="9.46" lengthAdjust="spacingAndGlyphs">1.0</text>
<text x="438.00" y="114.60" font-size="8.00" text-anchor="middle" font-weight="bold" fill="#000" stroke="#000" stroke-width="0.35" textLength="45.92" lengthAdjust="spacingAndGlyphs">Parietal (R)</text>
<g clip-path="url(#c23)"><rect x="218.10" y="209.35" width="61.90" height="6.38" fill="url(#g19)"/><rect x="218.10" y="215.23" width="36.70" height="6.38" fill="url(#g20)"/><rect x="220.60" y="226.99" width="59.00" height="6.38" fill="url(#g21)"/><rect x="213.20" y="232.87" width="67.60" height="6.38" fill="url(#g22)"/><g filter="url(#vblur)"><rect x="218.10" y="209.35" width="61.90" height="6.38" fill="url(#g19)"/><rect x="218.10" y="215.23" width="36.70" height="6.38" fill="url(#g20)"/><rect x="220.60" y="226.99" width="59.00" height="6.38" fill="url(#g21)"/><rect x="213.20" y="232.87" width="67.60" height="6.38" fill="url(#g22)"/></g></g>
<line x1="195.50" x2="337.50" y1="212.54" y2="212.54" class="hg"/>
<line x1="195.50" x2="337.50" y1="218.42" y2="218.42" class="hg"/>
<line x1="195.50" x2="337.50" y1="224.30" y2="224.30" class="hg"/>
<line x1="195.50" x2="337.50" y1="230.18" y2="230.18" class="hg"/>
<line x1="195.50" x2="337.50" y1="236.06" y2="236.06" class="hg"/>
<line x1="234.30" x2="234.30" y1="209.60" y2="239.00" class="vg"/>
<line x1="260.10" x2="260.10" y1="209.60" y2="239.00" class="vg"/>
<line x1="285.90" x2="285.90" y1="209.60" y2="239.00" class="vg"/>
<line x1="311.70" x2="311.70" y1="209.60" y2="239.00" class="vg"/>
<line x1="208.50" x2="208.50" y1="209.60" y2="239.00" class="z0"/>
<rect x="195.50" y="209.60" width="142.00" height="29.40" class="fr"/>
<line x1="208.50" x2="208.50" y1="239.00" y2="237.40" class="tk"/>
<line x1="234.30" x2="234.30" y1="239.00" y2="237.40" class="tk"/>
<line x1="260.10" x2="260.10" y1="239.00" y2="237.40" class="tk"/>
<line x1="285.90" x2="285.90" y1="239.00" y2="237.40" class="tk"/>
<line x1="311.70" x2="311.70" y1="239.00" y2="237.40" class="tk"/>
<line x1="337.50" x2="337.50" y1="239.00" y2="237.40" class="tk"/>
<text x="192.60" y="214.84" font-size="6.00" text-anchor="end" fill="#000" stroke="#000" stroke-width="0.12" textLength="16.36" lengthAdjust="spacingAndGlyphs">VCrm</text>
<text x="192.60" y="220.72" font-size="6.00" text-anchor="end" fill="#000" stroke="#000" stroke-width="0.12" textLength="7.93" lengthAdjust="spacingAndGlyphs">Cu</text>
<text x="192.60" y="226.60" font-size="6.00" text-anchor="end" fill="#000" stroke="#000" stroke-width="0.12" textLength="11.32" lengthAdjust="spacingAndGlyphs">VCs</text>
<text x="192.60" y="232.48" font-size="6.00" text-anchor="end" fill="#000" stroke="#000" stroke-width="0.12" textLength="9.88" lengthAdjust="spacingAndGlyphs">VCl</text>
<text x="192.60" y="238.36" font-size="6.00" text-anchor="end" fill="#000" stroke="#000" stroke-width="0.12" textLength="17.29" lengthAdjust="spacingAndGlyphs">VCcm</text>
<text x="208.50" y="246.30" font-size="6.70" text-anchor="middle" fill="#000" stroke="#000" stroke-width="0.12" textLength="9.46" lengthAdjust="spacingAndGlyphs">0.0</text>
<text x="234.30" y="246.30" font-size="6.70" text-anchor="middle" fill="#000" stroke="#000" stroke-width="0.12" textLength="9.46" lengthAdjust="spacingAndGlyphs">0.2</text>
<text x="260.10" y="246.30" font-size="6.70" text-anchor="middle" fill="#000" stroke="#000" stroke-width="0.12" textLength="9.46" lengthAdjust="spacingAndGlyphs">0.4</text>
<text x="285.90" y="246.30" font-size="6.70" text-anchor="middle" fill="#000" stroke="#000" stroke-width="0.12" textLength="9.46" lengthAdjust="spacingAndGlyphs">0.6</text>
<text x="311.70" y="246.30" font-size="6.70" text-anchor="middle" fill="#000" stroke="#000" stroke-width="0.12" textLength="9.46" lengthAdjust="spacingAndGlyphs">0.8</text>
<text x="337.50" y="246.30" font-size="6.70" text-anchor="middle" fill="#000" stroke="#000" stroke-width="0.12" textLength="9.46" lengthAdjust="spacingAndGlyphs">1.0</text>
<text x="266.50" y="205.70" font-size="8.00" text-anchor="middle" font-weight="bold" fill="#000" stroke="#000" stroke-width="0.35" textLength="48.85" lengthAdjust="spacingAndGlyphs">Occipital (L)</text>
<text x="266.50" y="253.70" font-size="6.70" text-anchor="middle" fill="#000" stroke="#000" stroke-width="0.12" textLength="24.20" lengthAdjust="spacingAndGlyphs">Time (s)</text>
<g clip-path="url(#c29)"><rect x="382.20" y="209.35" width="66.70" height="6.38" fill="url(#g24)"/><rect x="389.40" y="215.23" width="58.90" height="6.38" fill="url(#g25)"/><rect x="390.50" y="221.11" width="52.90" height="6.38" fill="url(#g26)"/><rect x="384.50" y="226.99" width="57.00" height="6.38" fill="url(#g27)"/><rect x="383.60" y="232.87" width="80.40" height="6.38" fill="url(#g28)"/><g filter="url(#vblur)"><rect x="382.20" y="209.35" width="66.70" height="6.38" fill="url(#g24)"/><rect x="389.40" y="215.23" width="58.90" height="6.38" fill="url(#g25)"/><rect x="390.50" y="221.11" width="52.90" height="6.38" fill="url(#g26)"/><rect x="384.50" y="226.99" width="57.00" height="6.38" fill="url(#g27)"/><rect x="383.60" y="232.87" width="80.40" height="6.38" fill="url(#g28)"/></g></g>
<line x1="366.50" x2="509.50" y1="212.54" y2="212.54" class="hg"/>
<line x1="366.50" x2="509.50" y1="218.42" y2="218.42" class="hg"/>
<line x1="366.50" x2="509.50" y1="224.30" y2="224.30" class="hg"/>
<line x1="366.50" x2="509.50" y1="230.18" y2="230.18" class="hg"/>
<line x1="366.50" x2="509.50" y1="236.06" y2="236.06" class="hg"/>
<line x1="405.90" x2="405.90" y1="209.60" y2="239.00" class="vg"/>
<line x1="431.80" x2="431.80" y1="209.60" y2="239.00" class="vg"/>
<line x1="457.70" x2="457.70" y1="209.60" y2="239.00" class="vg"/>
<line x1="483.60" x2="483.60" y1="209.60" y2="239.00" class="vg"/>
<line x1="380.00" x2="380.00" y1="209.60" y2="239.00" class="z0"/>
<rect x="366.50" y="209.60" width="143.00" height="29.40" class="fr"/>
<line x1="380.00" x2="380.00" y1="239.00" y2="237.40" class="tk"/>
<line x1="405.90" x2="405.90" y1="239.00" y2="237.40" class="tk"/>
<line x1="431.80" x2="431.80" y1="239.00" y2="237.40" class="tk"/>
<line x1="457.70" x2="457.70" y1="239.00" y2="237.40" class="tk"/>
<line x1="483.60" x2="483.60" y1="239.00" y2="237.40" class="tk"/>
<line x1="509.50" x2="509.50" y1="239.00" y2="237.40" class="tk"/>
<text x="363.60" y="214.84" font-size="6.00" text-anchor="end" fill="#000" stroke="#000" stroke-width="0.12" textLength="16.36" lengthAdjust="spacingAndGlyphs">VCrm</text>
<text x="363.60" y="220.72" font-size="6.00" text-anchor="end" fill="#000" stroke="#000" stroke-width="0.12" textLength="7.93" lengthAdjust="spacingAndGlyphs">Cu</text>
<text x="363.60" y="226.60" font-size="6.00" text-anchor="end" fill="#000" stroke="#000" stroke-width="0.12" textLength="11.32" lengthAdjust="spacingAndGlyphs">VCs</text>
<text x="363.60" y="232.48" font-size="6.00" text-anchor="end" fill="#000" stroke="#000" stroke-width="0.12" textLength="9.88" lengthAdjust="spacingAndGlyphs">VCl</text>
<text x="363.60" y="238.36" font-size="6.00" text-anchor="end" fill="#000" stroke="#000" stroke-width="0.12" textLength="17.29" lengthAdjust="spacingAndGlyphs">VCcm</text>
<text x="380.00" y="246.30" font-size="6.70" text-anchor="middle" fill="#000" stroke="#000" stroke-width="0.12" textLength="9.46" lengthAdjust="spacingAndGlyphs">0.0</text>
<text x="405.90" y="246.30" font-size="6.70" text-anchor="middle" fill="#000" stroke="#000" stroke-width="0.12" textLength="9.46" lengthAdjust="spacingAndGlyphs">0.2</text>
<text x="431.80" y="246.30" font-size="6.70" text-anchor="middle" fill="#000" stroke="#000" stroke-width="0.12" textLength="9.46" lengthAdjust="spacingAndGlyphs">0.4</text>
<text x="457.70" y="246.30" font-size="6.70" text-anchor="middle" fill="#000" stroke="#000" stroke-width="0.12" textLength="9.46" lengthAdjust="spacingAndGlyphs">0.6</text>
<text x="483.60" y="246.30" font-size="6.70" text-anchor="middle" fill="#000" stroke="#000" stroke-width="0.12" textLength="9.46" lengthAdjust="spacingAndGlyphs">0.8</text>
<text x="509.50" y="246.30" font-size="6.70" text-anchor="middle" fill="#000" stroke="#000" stroke-width="0.12" textLength="9.46" lengthAdjust="spacingAndGlyphs">1.0</text>
<text x="438.00" y="205.70" font-size="8.00" text-anchor="middle" font-weight="bold" fill="#000" stroke="#000" stroke-width="0.35" textLength="49.80" lengthAdjust="spacingAndGlyphs">Occipital (R)</text>
<text x="438.00" y="253.70" font-size="6.70" text-anchor="middle" fill="#000" stroke="#000" stroke-width="0.12" textLength="24.20" lengthAdjust="spacingAndGlyphs">Time (s)</text>
<g clip-path="url(#c43)"><rect x="554.30" y="19.25" width="113.40" height="7.65" fill="url(#g30)"/><rect x="573.40" y="26.40" width="52.50" height="7.65" fill="url(#g31)"/><rect x="577.20" y="33.55" width="92.50" height="7.65" fill="url(#g32)"/><rect x="586.00" y="40.70" width="82.10" height="7.65" fill="url(#g33)"/><rect x="597.70" y="47.85" width="67.50" height="7.65" fill="url(#g34)"/><rect x="578.20" y="55.00" width="86.20" height="7.65" fill="url(#g35)"/><rect x="566.90" y="76.45" width="64.80" height="7.65" fill="url(#g36)"/><rect x="567.90" y="83.60" width="76.90" height="7.65" fill="url(#g37)"/><rect x="562.80" y="105.05" width="64.10" height="7.65" fill="url(#g38)"/><rect x="562.60" y="112.20" width="64.30" height="7.65" fill="url(#g39)"/><rect x="560.80" y="119.35" width="104.30" height="7.65" fill="url(#g40)"/><rect x="565.10" y="126.50" width="49.90" height="7.65" fill="url(#g41)"/><rect x="574.30" y="147.95" width="45.70" height="7.65" fill="url(#g42)"/><g filter="url(#vblur)"><rect x="554.30" y="19.25" width="113.40" height="7.65" fill="url(#g30)"/><rect x="573.40" y="26.40" width="52.50" height="7.65" fill="url(#g31)"/><rect x="577.20" y="33.55" width="92.50" height="7.65" fill="url(#g32)"/><rect x="586.00" y="40.70" width="82.10" height="7.65" fill="url(#g33)"/><rect x="597.70" y="47.85" width="67.50" height="7.65" fill="url(#g34)"/><rect x="578.20" y="55.00" width="86.20" height="7.65" fill="url(#g35)"/><rect x="566.90" y="76.45" width="64.80" height="7.65" fill="url(#g36)"/><rect x="567.90" y="83.60" width="76.90" height="7.65" fill="url(#g37)"/><rect x="562.80" y="105.05" width="64.10" height="7.65" fill="url(#g38)"/><rect x="562.60" y="112.20" width="64.30" height="7.65" fill="url(#g39)"/><rect x="560.80" y="119.35" width="104.30" height="7.65" fill="url(#g40)"/><rect x="565.10" y="126.50" width="49.90" height="7.65" fill="url(#g41)"/><rect x="574.30" y="147.95" width="45.70" height="7.65" fill="url(#g42)"/></g></g>
<line x1="538.50" x2="680.50" y1="23.07" y2="23.07" class="hg"/>
<line x1="538.50" x2="680.50" y1="30.23" y2="30.23" class="hg"/>
<line x1="538.50" x2="680.50" y1="37.38" y2="37.38" class="hg"/>
<line x1="538.50" x2="680.50" y1="44.53" y2="44.53" class="hg"/>
<line x1="538.50" x2="680.50" y1="51.68" y2="51.68" class="hg"/>
<line x1="538.50" x2="680.50" y1="58.83" y2="58.83" class="hg"/>
<line x1="538.50" x2="680.50" y1="65.97" y2="65.97" class="hg"/>
<line x1="538.50" x2="680.50" y1="73.12" y2="73.12" class="hg"/>
<line x1="538.50" x2="680.50" y1="80.28" y2="80.28" class="hg"/>
<line x1="538.50" x2="680.50" y1="87.42" y2="87.42" class="hg"/>
<line x1="538.50" x2="680.50" y1="94.58" y2="94.58" class="hg"/>
<line x1="538.50" x2="680.50" y1="101.73" y2="101.73" class="hg"/>
<line x1="538.50" x2="680.50" y1="108.88" y2="108.88" class="hg"/>
<line x1="538.50" x2="680.50" y1="116.03" y2="116.03" class="hg"/>
<line x1="538.50" x2="680.50" y1="123.18" y2="123.18" class="hg"/>
<line x1="538.50" x2="680.50" y1="130.32" y2="130.32" class="hg"/>
<line x1="538.50" x2="680.50" y1="137.48" y2="137.48" class="hg"/>
<line x1="538.50" x2="680.50" y1="144.62" y2="144.62" class="hg"/>
<line x1="538.50" x2="680.50" y1="151.78" y2="151.78" class="hg"/>
<line x1="538.50" x2="680.50" y1="158.93" y2="158.93" class="hg"/>
<line x1="577.30" x2="577.30" y1="19.50" y2="162.50" class="vg"/>
<line x1="603.10" x2="603.10" y1="19.50" y2="162.50" class="vg"/>
<line x1="628.90" x2="628.90" y1="19.50" y2="162.50" class="vg"/>
<line x1="654.70" x2="654.70" y1="19.50" y2="162.50" class="vg"/>
<line x1="551.50" x2="551.50" y1="19.50" y2="162.50" class="z0"/>
<rect x="538.50" y="19.50" width="142.00" height="143.00" class="fr"/>
<line x1="551.50" x2="551.50" y1="162.50" y2="160.90" class="tk"/>
<line x1="577.30" x2="577.30" y1="162.50" y2="160.90" class="tk"/>
<line x1="603.10" x2="603.10" y1="162.50" y2="160.90" class="tk"/>
<line x1="628.90" x2="628.90" y1="162.50" y2="160.90" class="tk"/>
<line x1="654.70" x2="654.70" y1="162.50" y2="160.90" class="tk"/>
<line x1="680.50" x2="680.50" y1="162.50" y2="160.90" class="tk"/>
<text x="535.60" y="25.38" font-size="6.70" text-anchor="end" fill="#000" stroke="#000" stroke-width="0.12" textLength="17.70" lengthAdjust="spacingAndGlyphs">Insula</text>
<text x="535.60" y="32.52" font-size="6.70" text-anchor="end" fill="#000" stroke="#000" stroke-width="0.12" textLength="12.27" lengthAdjust="spacingAndGlyphs">ACC</text>
<text x="535.60" y="39.67" font-size="6.70" text-anchor="end" fill="#000" stroke="#000" stroke-width="0.12" textLength="20.48" lengthAdjust="spacingAndGlyphs">PFCvm</text>
<text x="535.60" y="46.83" font-size="6.70" text-anchor="end" fill="#000" stroke="#000" stroke-width="0.12" textLength="21.58" lengthAdjust="spacingAndGlyphs">OFCvm</text>
<text x="535.60" y="53.98" font-size="6.70" text-anchor="end" fill="#000" stroke="#000" stroke-width="0.12" textLength="15.78" lengthAdjust="spacingAndGlyphs">OFCv</text>
<text x="535.60" y="61.12" font-size="6.70" text-anchor="end" fill="#000" stroke="#000" stroke-width="0.12" textLength="17.43" lengthAdjust="spacingAndGlyphs">OFCvl</text>
<text x="535.60" y="68.27" font-size="6.70" text-anchor="end" fill="#000" stroke="#000" stroke-width="0.12" textLength="14.72" lengthAdjust="spacingAndGlyphs">PFrm</text>
<text x="535.60" y="75.42" font-size="6.70" text-anchor="end" fill="#000" stroke="#000" stroke-width="0.12" textLength="12.70" lengthAdjust="spacingAndGlyphs">PFrd</text>
<text x="535.60" y="82.58" font-size="6.70" text-anchor="end" fill="#000" stroke="#000" stroke-width="0.12" textLength="17.45" lengthAdjust="spacingAndGlyphs">PFrdls</text>
<text x="535.60" y="89.72" font-size="6.70" text-anchor="end" fill="#000" stroke="#000" stroke-width="0.12" textLength="16.00" lengthAdjust="spacingAndGlyphs">PFrdli</text>
<text x="535.60" y="96.88" font-size="6.70" text-anchor="end" fill="#000" stroke="#000" stroke-width="0.12" textLength="14.20" lengthAdjust="spacingAndGlyphs">PFrvl</text>
<text x="535.60" y="104.03" font-size="6.70" text-anchor="end" fill="#000" stroke="#000" stroke-width="0.12" textLength="13.44" lengthAdjust="spacingAndGlyphs">MCC</text>
<text x="535.60" y="111.17" font-size="6.70" text-anchor="end" fill="#000" stroke="#000" stroke-width="0.12" textLength="19.85" lengthAdjust="spacingAndGlyphs">PFcdm</text>
<text x="535.60" y="118.33" font-size="6.70" text-anchor="end" fill="#000" stroke="#000" stroke-width="0.12" textLength="15.71" lengthAdjust="spacingAndGlyphs">PFcdl</text>
<text x="535.60" y="125.48" font-size="6.70" text-anchor="end" fill="#000" stroke="#000" stroke-width="0.12" textLength="18.29" lengthAdjust="spacingAndGlyphs">PMdm</text>
<text x="535.60" y="132.62" font-size="6.70" text-anchor="end" fill="#000" stroke="#000" stroke-width="0.12" textLength="14.15" lengthAdjust="spacingAndGlyphs">PMdl</text>
<text x="535.60" y="139.78" font-size="6.70" text-anchor="end" fill="#000" stroke="#000" stroke-width="0.12" textLength="14.69" lengthAdjust="spacingAndGlyphs">PMrv</text>
<text x="535.60" y="146.93" font-size="6.70" text-anchor="end" fill="#000" stroke="#000" stroke-width="0.12" textLength="14.71" lengthAdjust="spacingAndGlyphs">Mdm</text>
<text x="535.60" y="154.08" font-size="6.70" text-anchor="end" fill="#000" stroke="#000" stroke-width="0.12" textLength="10.56" lengthAdjust="spacingAndGlyphs">Mdl</text>
<text x="535.60" y="161.23" font-size="6.70" text-anchor="end" fill="#000" stroke="#000" stroke-width="0.12" textLength="8.65" lengthAdjust="spacingAndGlyphs">Mv</text>
<text x="551.50" y="170.30" font-size="6.70" text-anchor="middle" fill="#000" stroke="#000" stroke-width="0.12" textLength="9.46" lengthAdjust="spacingAndGlyphs">0.0</text>
<text x="577.30" y="170.30" font-size="6.70" text-anchor="middle" fill="#000" stroke="#000" stroke-width="0.12" textLength="9.46" lengthAdjust="spacingAndGlyphs">0.2</text>
<text x="603.10" y="170.30" font-size="6.70" text-anchor="middle" fill="#000" stroke="#000" stroke-width="0.12" textLength="9.46" lengthAdjust="spacingAndGlyphs">0.4</text>
<text x="628.90" y="170.30" font-size="6.70" text-anchor="middle" fill="#000" stroke="#000" stroke-width="0.12" textLength="9.46" lengthAdjust="spacingAndGlyphs">0.6</text>
<text x="654.70" y="170.30" font-size="6.70" text-anchor="middle" fill="#000" stroke="#000" stroke-width="0.12" textLength="9.46" lengthAdjust="spacingAndGlyphs">0.8</text>
<text x="680.50" y="170.30" font-size="6.70" text-anchor="middle" fill="#000" stroke="#000" stroke-width="0.12" textLength="9.46" lengthAdjust="spacingAndGlyphs">1.0</text>
<text x="609.50" y="15.60" font-size="8.00" text-anchor="middle" font-weight="bold" fill="#000" stroke="#000" stroke-width="0.35" textLength="43.18" lengthAdjust="spacingAndGlyphs">Frontal (R)</text>
<g clip-path="url(#c50)"><rect x="567.20" y="179.25" width="83.00" height="6.50" fill="url(#g44)"/><rect x="565.00" y="185.25" width="37.80" height="6.50" fill="url(#g45)"/><rect x="557.50" y="191.25" width="73.30" height="6.50" fill="url(#g46)"/><rect x="560.10" y="197.25" width="54.40" height="6.50" fill="url(#g47)"/><rect x="570.00" y="203.25" width="60.10" height="6.50" fill="url(#g48)"/><rect x="562.20" y="209.25" width="67.50" height="6.50" fill="url(#g49)"/><g filter="url(#vblur)"><rect x="567.20" y="179.25" width="83.00" height="6.50" fill="url(#g44)"/><rect x="565.00" y="185.25" width="37.80" height="6.50" fill="url(#g45)"/><rect x="557.50" y="191.25" width="73.30" height="6.50" fill="url(#g46)"/><rect x="560.10" y="197.25" width="54.40" height="6.50" fill="url(#g47)"/><rect x="570.00" y="203.25" width="60.10" height="6.50" fill="url(#g48)"/><rect x="562.20" y="209.25" width="67.50" height="6.50" fill="url(#g49)"/></g></g>
<line x1="538.50" x2="680.50" y1="182.50" y2="182.50" class="hg"/>
<line x1="538.50" x2="680.50" y1="188.50" y2="188.50" class="hg"/>
<line x1="538.50" x2="680.50" y1="194.50" y2="194.50" class="hg"/>
<line x1="538.50" x2="680.50" y1="200.50" y2="200.50" class="hg"/>
<line x1="538.50" x2="680.50" y1="206.50" y2="206.50" class="hg"/>
<line x1="538.50" x2="680.50" y1="212.50" y2="212.50" class="hg"/>
<line x1="577.30" x2="577.30" y1="179.50" y2="215.50" class="vg"/>
<line x1="603.10" x2="603.10" y1="179.50" y2="215.50" class="vg"/>
<line x1="628.90" x2="628.90" y1="179.50" y2="215.50" class="vg"/>
<line x1="654.70" x2="654.70" y1="179.50" y2="215.50" class="vg"/>
<line x1="551.50" x2="551.50" y1="179.50" y2="215.50" class="z0"/>
<rect x="538.50" y="179.50" width="142.00" height="36.00" class="fr"/>
<line x1="551.50" x2="551.50" y1="215.50" y2="213.90" class="tk"/>
<line x1="577.30" x2="577.30" y1="215.50" y2="213.90" class="tk"/>
<line x1="603.10" x2="603.10" y1="215.50" y2="213.90" class="tk"/>
<line x1="628.90" x2="628.90" y1="215.50" y2="213.90" class="tk"/>
<line x1="654.70" x2="654.70" y1="215.50" y2="213.90" class="tk"/>
<line x1="680.50" x2="680.50" y1="215.50" y2="213.90" class="tk"/>
<text x="535.60" y="184.80" font-size="6.30" text-anchor="end" fill="#000" stroke="#000" stroke-width="0.12" textLength="15.02" lengthAdjust="spacingAndGlyphs">MTCr</text>
<text x="535.60" y="190.80" font-size="6.30" text-anchor="end" fill="#000" stroke="#000" stroke-width="0.12" textLength="13.66" lengthAdjust="spacingAndGlyphs">STCr</text>
<text x="535.60" y="196.80" font-size="6.30" text-anchor="end" fill="#000" stroke="#000" stroke-width="0.12" textLength="14.49" lengthAdjust="spacingAndGlyphs">STCc</text>
<text x="535.60" y="202.80" font-size="6.30" text-anchor="end" fill="#000" stroke="#000" stroke-width="0.12" textLength="15.85" lengthAdjust="spacingAndGlyphs">MTCc</text>
<text x="535.60" y="208.80" font-size="6.30" text-anchor="end" fill="#000" stroke="#000" stroke-width="0.12" textLength="11.64" lengthAdjust="spacingAndGlyphs">ITCr</text>
<text x="535.60" y="214.80" font-size="6.30" text-anchor="end" fill="#000" stroke="#000" stroke-width="0.12" textLength="14.99" lengthAdjust="spacingAndGlyphs">ITCm</text>
<text x="551.50" y="223.30" font-size="6.70" text-anchor="middle" fill="#000" stroke="#000" stroke-width="0.12" textLength="9.46" lengthAdjust="spacingAndGlyphs">0.0</text>
<text x="577.30" y="223.30" font-size="6.70" text-anchor="middle" fill="#000" stroke="#000" stroke-width="0.12" textLength="9.46" lengthAdjust="spacingAndGlyphs">0.2</text>
<text x="603.10" y="223.30" font-size="6.70" text-anchor="middle" fill="#000" stroke="#000" stroke-width="0.12" textLength="9.46" lengthAdjust="spacingAndGlyphs">0.4</text>
<text x="628.90" y="223.30" font-size="6.70" text-anchor="middle" fill="#000" stroke="#000" stroke-width="0.12" textLength="9.46" lengthAdjust="spacingAndGlyphs">0.6</text>
<text x="654.70" y="223.30" font-size="6.70" text-anchor="middle" fill="#000" stroke="#000" stroke-width="0.12" textLength="9.46" lengthAdjust="spacingAndGlyphs">0.8</text>
<text x="680.50" y="223.30" font-size="6.70" text-anchor="middle" fill="#000" stroke="#000" stroke-width="0.12" textLength="9.46" lengthAdjust="spacingAndGlyphs">1.0</text>
<text x="609.50" y="175.60" font-size="8.00" text-anchor="middle" font-weight="bold" fill="#000" stroke="#000" stroke-width="0.35" textLength="51.59" lengthAdjust="spacingAndGlyphs">Temporal (R)</text>
<text x="609.50" y="230.70" font-size="6.70" text-anchor="middle" fill="#000" stroke="#000" stroke-width="0.12" textLength="24.20" lengthAdjust="spacingAndGlyphs">Time (s)</text>
<rect x="566.60" y="232.20" width="85.90" height="6.80" fill="url(#cbar)" stroke="#000" stroke-width="0.7"/>
<line x1="583.60" x2="583.60" y1="239.00" y2="240.60" class="tk"/>
<text x="583.60" y="247.90" font-size="6.70" text-anchor="middle" fill="#000" stroke="#000" stroke-width="0.12" textLength="13.25" lengthAdjust="spacingAndGlyphs">0.01</text>
<line x1="605.60" x2="605.60" y1="239.00" y2="240.60" class="tk"/>
<text x="605.60" y="247.90" font-size="6.70" text-anchor="middle" fill="#000" stroke="#000" stroke-width="0.12" textLength="13.25" lengthAdjust="spacingAndGlyphs">0.02</text>
<line x1="627.60" x2="627.60" y1="239.00" y2="240.60" class="tk"/>
<text x="627.60" y="247.90" font-size="6.70" text-anchor="middle" fill="#000" stroke="#000" stroke-width="0.12" textLength="13.25" lengthAdjust="spacingAndGlyphs">0.03</text>
<line x1="649.70" x2="649.70" y1="239.00" y2="240.60" class="tk"/>
<text x="649.70" y="247.90" font-size="6.70" text-anchor="middle" fill="#000" stroke="#000" stroke-width="0.12" textLength="13.25" lengthAdjust="spacingAndGlyphs">0.04</text>
<text x="609.55" y="256.00" font-size="6.70" text-anchor="middle" fill="#000" stroke="#000" stroke-width="0.12" textLength="24.29" lengthAdjust="spacingAndGlyphs">MI (bits)</text>
<text x="241.00" y="21.20" font-size="7.00" text-anchor="middle" fill="#000000" stroke="#000000" stroke-width="0.12" textLength="13.02" lengthAdjust="spacingAndGlyphs">PFrd</text>
<text x="257.30" y="17.90" font-size="7.00" text-anchor="middle" fill="#000000" stroke="#000000" stroke-width="0.12" textLength="20.36" lengthAdjust="spacingAndGlyphs">PFcdm</text>
<text x="278.00" y="14.20" font-size="7.00" text-anchor="middle" fill="#000000" stroke="#000000" stroke-width="0.12" textLength="18.76" lengthAdjust="spacingAndGlyphs">PMdm</text>
<text x="296.00" y="9.40" font-size="7.00" text-anchor="middle" fill="#ffffff" stroke="#ffffff" stroke-width="0.12" textLength="15.08" lengthAdjust="spacingAndGlyphs">Mdm</text>
<text x="322.00" y="9.40" font-size="7.00" text-anchor="middle" fill="#000000" stroke="#000000" stroke-width="0.12" textLength="13.69" lengthAdjust="spacingAndGlyphs">Sdm</text>
<text x="339.70" y="24.90" font-size="7.00" text-anchor="middle" fill="#000000" stroke="#000000" stroke-width="0.12" textLength="17.75" lengthAdjust="spacingAndGlyphs">SPCm</text>
<text x="230.60" y="36.00" font-size="7.00" text-anchor="middle" fill="#ffffff" stroke="#ffffff" stroke-width="0.12" textLength="17.89" lengthAdjust="spacingAndGlyphs">PFrdls</text>
<text x="257.30" y="34.50" font-size="7.00" text-anchor="middle" fill="#ffffff" stroke="#ffffff" stroke-width="0.12" textLength="16.11" lengthAdjust="spacingAndGlyphs">PFcdl</text>
<text x="273.20" y="28.60" font-size="7.00" text-anchor="middle" fill="#ffffff" stroke="#ffffff" stroke-width="0.12" textLength="14.51" lengthAdjust="spacingAndGlyphs">PMdl</text>
<text x="285.00" y="35.80" font-size="7.00" text-anchor="middle" fill="#ffffff" stroke="#ffffff" stroke-width="0.12" textLength="10.83" lengthAdjust="spacingAndGlyphs">Mdl</text>
<text x="303.80" y="28.60" font-size="7.00" text-anchor="middle" fill="#ffffff" stroke="#ffffff" stroke-width="0.12" textLength="9.44" lengthAdjust="spacingAndGlyphs">Sdl</text>
<text x="314.50" y="36.00" font-size="7.00" text-anchor="middle" fill="#ffffff" stroke="#ffffff" stroke-width="0.12" textLength="11.81" lengthAdjust="spacingAndGlyphs">SPC</text>
<text x="319.30" y="47.10" font-size="7.00" text-anchor="middle" fill="#ffffff" stroke="#ffffff" stroke-width="0.12" textLength="13.61" lengthAdjust="spacingAndGlyphs">IPCd</text>
<text x="238.00" y="45.60" font-size="7.00" text-anchor="middle" fill="#ffffff" stroke="#ffffff" stroke-width="0.12" textLength="16.41" lengthAdjust="spacingAndGlyphs">PFrdli</text>
<text x="263.00" y="50.40" font-size="7.00" text-anchor="middle" fill="#ffffff" stroke="#ffffff" stroke-width="0.12" textLength="15.06" lengthAdjust="spacingAndGlyphs">PMrv</text>
<text x="278.50" y="56.00" font-size="7.00" text-anchor="middle" fill="#ffffff" stroke="#ffffff" stroke-width="0.12" textLength="8.87" lengthAdjust="spacingAndGlyphs">Mv</text>
<text x="292.00" y="52.50" font-size="7.00" text-anchor="middle" fill="#e8ffe0" stroke="#e8ffe0" stroke-width="0.12" textLength="7.48" lengthAdjust="spacingAndGlyphs">Sv</text>
<text x="303.50" y="58.20" font-size="7.00" text-anchor="middle" fill="#000000" stroke="#000000" stroke-width="0.12" textLength="13.35" lengthAdjust="spacingAndGlyphs">IPCv</text>
<text x="328.60" y="55.60" font-size="7.00" text-anchor="middle" fill="#ffffff" stroke="#ffffff" stroke-width="0.12" textLength="11.61" lengthAdjust="spacingAndGlyphs">VCs</text>
<text x="244.00" y="56.00" font-size="7.00" text-anchor="middle" fill="#ffffff" stroke="#ffffff" stroke-width="0.12" textLength="14.56" lengthAdjust="spacingAndGlyphs">PFrvl</text>
<text x="202.50" y="50.00" font-size="7.00" text-anchor="middle" fill="#000000" stroke="#000000" stroke-width="0.12" textLength="22.12" lengthAdjust="spacingAndGlyphs">OFCvm</text>
<text x="215.10" y="63.00" font-size="7.00" text-anchor="middle" fill="#000000" stroke="#000000" stroke-width="0.12" textLength="16.18" lengthAdjust="spacingAndGlyphs">OFCv</text>
<text x="232.50" y="73.00" font-size="7.00" text-anchor="middle" fill="#000000" stroke="#000000" stroke-width="0.12" textLength="17.87" lengthAdjust="spacingAndGlyphs">OFCvl</text>
<text x="263.50" y="65.40" font-size="7.00" text-anchor="middle" fill="#000000" stroke="#000000" stroke-width="0.12" textLength="18.14" lengthAdjust="spacingAndGlyphs">Insula</text>
<text x="291.60" y="66.70" font-size="7.00" text-anchor="middle" fill="#ffffff" stroke="#ffffff" stroke-width="0.12" textLength="14.85" lengthAdjust="spacingAndGlyphs">STCc</text>
<text x="265.80" y="77.80" font-size="7.00" text-anchor="middle" fill="#000000" stroke="#000000" stroke-width="0.12" textLength="14.01" lengthAdjust="spacingAndGlyphs">STCr</text>
<text x="300.90" y="76.60" font-size="7.00" text-anchor="middle" fill="#000000" stroke="#000000" stroke-width="0.12" textLength="16.24" lengthAdjust="spacingAndGlyphs">MTCc</text>
<text x="327.50" y="71.50" font-size="7.00" text-anchor="middle" fill="#ffffff" stroke="#ffffff" stroke-width="0.12" textLength="10.13" lengthAdjust="spacingAndGlyphs">VCl</text>
<text x="269.50" y="85.10" font-size="7.00" text-anchor="middle" fill="#ffffff" stroke="#ffffff" stroke-width="0.12" textLength="15.40" lengthAdjust="spacingAndGlyphs">MTCr</text>
<text x="401.00" y="13.10" font-size="7.00" text-anchor="middle" fill="#3a1040" stroke="#3a1040" stroke-width="0.12" textLength="15.08" lengthAdjust="spacingAndGlyphs">Mdm</text>
<text x="422.00" y="9.40" font-size="7.00" text-anchor="middle" fill="#000000" stroke="#000000" stroke-width="0.12" textLength="18.76" lengthAdjust="spacingAndGlyphs">PMdm</text>
<text x="384.00" y="19.00" font-size="7.00" text-anchor="middle" fill="#ffffff" stroke="#ffffff" stroke-width="0.12" textLength="13.69" lengthAdjust="spacingAndGlyphs">Sdm</text>
<text x="438.70" y="18.60" font-size="7.00" text-anchor="middle" fill="#000000" stroke="#000000" stroke-width="0.12" textLength="20.36" lengthAdjust="spacingAndGlyphs">PFcdm</text>
<text x="456.40" y="27.90" font-size="7.00" text-anchor="middle" fill="#000000" stroke="#000000" stroke-width="0.12" textLength="15.09" lengthAdjust="spacingAndGlyphs">PFrm</text>
<text x="373.00" y="33.00" font-size="7.00" text-anchor="middle" fill="#ffffff" stroke="#ffffff" stroke-width="0.12" textLength="13.88" lengthAdjust="spacingAndGlyphs">PCm</text>
<text x="423.90" y="32.30" font-size="7.00" text-anchor="middle" fill="#ffffff" stroke="#ffffff" stroke-width="0.12" textLength="13.78" lengthAdjust="spacingAndGlyphs">MCC</text>
<text x="450.50" y="40.80" font-size="7.00" text-anchor="middle" fill="#ffffff" stroke="#ffffff" stroke-width="0.12" textLength="12.58" lengthAdjust="spacingAndGlyphs">ACC</text>
<text x="390.50" y="47.30" font-size="7.00" text-anchor="middle" fill="#000000" stroke="#000000" stroke-width="0.12" textLength="12.20" lengthAdjust="spacingAndGlyphs">PCC</text>
<text x="423.80" y="58.20" font-size="7.00" text-anchor="middle" fill="#000000" stroke="#000000" stroke-width="0.12" textLength="40.49" lengthAdjust="spacingAndGlyphs">Cingular pole</text>
<text x="470.00" y="56.70" font-size="7.00" text-anchor="middle" fill="#ffffff" stroke="#ffffff" stroke-width="0.12" textLength="21.00" lengthAdjust="spacingAndGlyphs">PFCvm</text>
<text x="360.50" y="61.00" font-size="7.00" text-anchor="middle" fill="#ffffff" stroke="#ffffff" stroke-width="0.12" textLength="8.13" lengthAdjust="spacingAndGlyphs">Cu</text>
<text x="389.00" y="66.60" font-size="7.00" text-anchor="middle" fill="#ffffff" stroke="#ffffff" stroke-width="0.12" textLength="10.32" lengthAdjust="spacingAndGlyphs">ICC</text>
<text x="374.70" y="74.00" font-size="7.00" text-anchor="middle" fill="#ffffff" stroke="#ffffff" stroke-width="0.12" textLength="16.78" lengthAdjust="spacingAndGlyphs">VCrm</text>
<text x="363.40" y="83.00" font-size="7.00" text-anchor="middle" fill="#ffffff" stroke="#ffffff" stroke-width="0.12" textLength="17.73" lengthAdjust="spacingAndGlyphs">VCcm</text>
<text x="411.00" y="82.20" font-size="7.00" text-anchor="middle" fill="#5a4a00" stroke="#5a4a00" stroke-width="0.12" textLength="15.37" lengthAdjust="spacingAndGlyphs">ITCm</text>
<text x="425.70" y="89.60" font-size="7.00" text-anchor="middle" fill="#ffffff" stroke="#ffffff" stroke-width="0.12" textLength="11.94" lengthAdjust="spacingAndGlyphs">ITCr</text>
<text x="447.30" y="86.30" font-size="7.00" text-anchor="middle" fill="#000000" stroke="#000000" stroke-width="0.12" textLength="15.40" lengthAdjust="spacingAndGlyphs">MTCr</text>
</svg></body></html>
